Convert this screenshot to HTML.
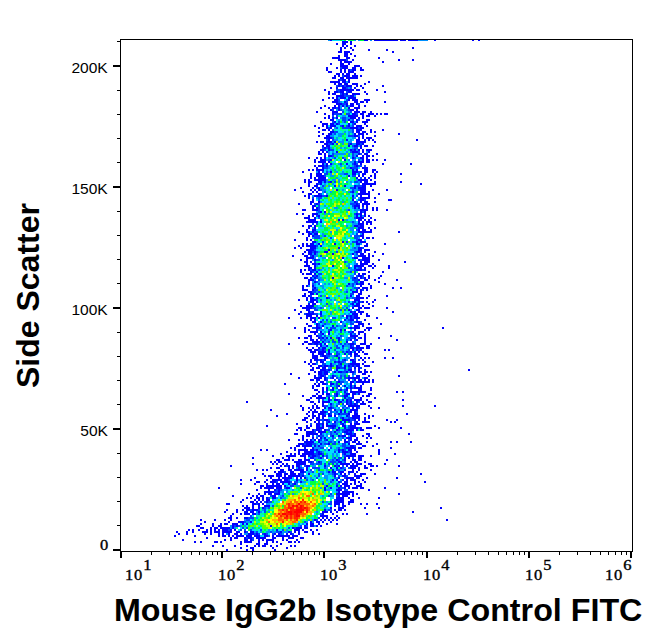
<!DOCTYPE html>
<html><head><meta charset="utf-8"><style>
html,body{margin:0;padding:0;background:#fff;width:653px;height:641px;overflow:hidden}
.t{position:absolute;white-space:nowrap;line-height:1;color:#000}
.yl{font-family:"Liberation Sans",sans-serif;font-size:14px;transform-origin:100% 50%;transform:scaleX(1.11)}
.xl{font-family:"Liberation Serif",serif;font-size:15px;-webkit-text-stroke:0.35px #000}
.xs{transform-origin:0 0;transform:scaleX(1.1);letter-spacing:0.6px}
.sup{position:relative;top:-10px;left:0.5px}
.ti{left:114px;top:595px;font-family:"Liberation Sans",sans-serif;font-weight:bold;font-size:31px;transform-origin:0 0;transform:scaleX(1.04)}
.yt{left:12px;top:388px;font-family:"Liberation Sans",sans-serif;font-weight:bold;font-size:32px;transform-origin:0 0;transform:rotate(-90deg)}
</style></head><body>
<svg width="653" height="641" style="position:absolute;left:0;top:0" shape-rendering="crispEdges">
<path fill="#0000ff" d="M342 41h2v2h-2zM344 41h2v2h-2zM346 41h2v2h-2zM350 41h2v2h-2zM336 43h2v2h-2zM342 43h2v2h-2zM344 43h2v2h-2zM350 43h2v2h-2zM342 45h2v2h-2zM346 45h2v2h-2zM354 45h2v2h-2zM340 47h2v2h-2zM344 47h2v2h-2zM350 47h2v2h-2zM340 49h2v2h-2zM352 49h2v2h-2zM338 51h2v2h-2zM340 51h2v2h-2zM344 51h2v2h-2zM346 51h2v2h-2zM348 51h2v2h-2zM344 53h2v2h-2zM346 53h2v2h-2zM350 53h2v2h-2zM338 55h2v2h-2zM344 55h2v2h-2zM346 55h2v2h-2zM354 55h2v2h-2zM332 57h2v2h-2zM334 57h2v2h-2zM336 57h2v2h-2zM338 57h2v2h-2zM346 57h2v2h-2zM348 57h2v2h-2zM338 59h2v2h-2zM340 59h2v2h-2zM342 59h2v2h-2zM344 59h2v2h-2zM352 59h2v2h-2zM340 61h2v2h-2zM344 61h2v2h-2zM346 61h2v2h-2zM348 61h2v2h-2zM350 61h2v2h-2zM330 63h2v2h-2zM340 63h2v2h-2zM342 63h2v2h-2zM348 63h2v2h-2zM340 65h2v2h-2zM342 65h2v2h-2zM344 65h2v2h-2zM346 65h2v2h-2zM354 65h2v2h-2zM356 65h2v2h-2zM358 65h2v2h-2zM326 67h2v2h-2zM336 67h2v2h-2zM342 67h2v2h-2zM344 67h2v2h-2zM346 67h2v2h-2zM352 67h2v2h-2zM354 67h2v2h-2zM360 67h2v2h-2zM326 69h2v2h-2zM340 69h2v2h-2zM344 69h2v2h-2zM348 69h2v2h-2zM352 69h2v2h-2zM354 69h2v2h-2zM360 69h2v2h-2zM362 69h2v2h-2zM328 71h2v2h-2zM330 71h2v2h-2zM340 71h2v2h-2zM344 71h2v2h-2zM348 71h2v2h-2zM350 71h2v2h-2zM352 71h2v2h-2zM336 73h2v2h-2zM338 73h2v2h-2zM342 73h2v2h-2zM346 73h2v2h-2zM348 73h2v2h-2zM354 73h2v2h-2zM334 75h2v2h-2zM338 75h2v2h-2zM344 75h2v2h-2zM346 75h2v2h-2zM348 75h2v2h-2zM352 75h2v2h-2zM354 75h2v2h-2zM356 75h2v2h-2zM360 75h2v2h-2zM332 77h2v2h-2zM334 77h2v2h-2zM340 77h2v2h-2zM342 77h2v2h-2zM346 77h2v2h-2zM348 77h2v2h-2zM350 77h2v2h-2zM352 77h2v2h-2zM354 77h2v2h-2zM356 77h2v2h-2zM338 79h2v2h-2zM342 79h2v2h-2zM344 79h2v2h-2zM348 79h2v2h-2zM330 81h2v2h-2zM332 81h2v2h-2zM334 81h2v2h-2zM336 81h2v2h-2zM338 81h2v2h-2zM342 81h2v2h-2zM344 81h2v2h-2zM348 81h2v2h-2zM368 81h2v2h-2zM334 83h2v2h-2zM338 83h2v2h-2zM340 83h2v2h-2zM344 83h2v2h-2zM346 83h2v2h-2zM352 83h2v2h-2zM354 83h2v2h-2zM356 83h2v2h-2zM364 83h2v2h-2zM338 85h2v2h-2zM342 85h2v2h-2zM346 85h2v2h-2zM348 85h2v2h-2zM350 85h2v2h-2zM356 85h2v2h-2zM360 85h2v2h-2zM382 85h2v2h-2zM330 87h2v2h-2zM336 87h2v2h-2zM342 87h2v2h-2zM344 87h2v2h-2zM354 87h2v2h-2zM362 87h2v2h-2zM324 89h2v2h-2zM340 89h2v2h-2zM342 89h2v2h-2zM344 89h2v2h-2zM346 89h2v2h-2zM348 89h2v2h-2zM350 89h2v2h-2zM352 89h2v2h-2zM356 89h2v2h-2zM358 89h2v2h-2zM376 89h2v2h-2zM328 91h2v2h-2zM334 91h2v2h-2zM336 91h2v2h-2zM340 91h2v2h-2zM342 91h2v2h-2zM348 91h2v2h-2zM350 91h2v2h-2zM364 91h2v2h-2zM328 93h2v2h-2zM332 93h2v2h-2zM334 93h2v2h-2zM342 93h2v2h-2zM346 93h2v2h-2zM352 93h2v2h-2zM354 93h2v2h-2zM356 93h2v2h-2zM358 93h2v2h-2zM366 93h2v2h-2zM336 95h2v2h-2zM338 95h2v2h-2zM340 95h2v2h-2zM342 95h2v2h-2zM350 95h2v2h-2zM352 95h2v2h-2zM328 97h2v2h-2zM332 97h2v2h-2zM336 97h2v2h-2zM340 97h2v2h-2zM342 97h2v2h-2zM344 97h2v2h-2zM348 97h2v2h-2zM350 97h2v2h-2zM352 97h2v2h-2zM354 97h2v2h-2zM322 99h2v2h-2zM334 99h2v2h-2zM336 99h2v2h-2zM348 99h2v2h-2zM352 99h2v2h-2zM354 99h2v2h-2zM356 99h2v2h-2zM364 99h2v2h-2zM366 99h2v2h-2zM368 99h2v2h-2zM332 101h2v2h-2zM334 101h2v2h-2zM336 101h2v2h-2zM344 101h2v2h-2zM354 101h2v2h-2zM356 101h2v2h-2zM360 101h2v2h-2zM362 101h2v2h-2zM366 101h2v2h-2zM336 103h2v2h-2zM338 103h2v2h-2zM340 103h2v2h-2zM346 103h2v2h-2zM350 103h2v2h-2zM352 103h2v2h-2zM356 103h2v2h-2zM324 105h2v2h-2zM334 105h2v2h-2zM338 105h2v2h-2zM342 105h2v2h-2zM346 105h2v2h-2zM350 105h2v2h-2zM352 105h2v2h-2zM358 105h2v2h-2zM364 105h2v2h-2zM320 107h2v2h-2zM328 107h2v2h-2zM332 107h2v2h-2zM334 107h2v2h-2zM338 107h2v2h-2zM348 107h2v2h-2zM354 107h2v2h-2zM356 107h2v2h-2zM358 107h2v2h-2zM330 109h2v2h-2zM338 109h2v2h-2zM350 109h2v2h-2zM352 109h2v2h-2zM356 109h2v2h-2zM316 111h2v2h-2zM332 111h2v2h-2zM334 111h2v2h-2zM336 111h2v2h-2zM354 111h2v2h-2zM356 111h2v2h-2zM358 111h2v2h-2zM362 111h2v2h-2zM364 111h2v2h-2zM370 111h2v2h-2zM324 113h2v2h-2zM332 113h2v2h-2zM340 113h2v2h-2zM352 113h2v2h-2zM354 113h2v2h-2zM360 113h2v2h-2zM362 113h2v2h-2zM368 113h2v2h-2zM370 113h2v2h-2zM328 115h2v2h-2zM348 115h2v2h-2zM350 115h2v2h-2zM352 115h2v2h-2zM354 115h2v2h-2zM356 115h2v2h-2zM362 115h2v2h-2zM366 115h2v2h-2zM368 115h2v2h-2zM374 115h2v2h-2zM324 117h2v2h-2zM328 117h2v2h-2zM332 117h2v2h-2zM336 117h2v2h-2zM350 117h2v2h-2zM352 117h2v2h-2zM354 117h2v2h-2zM358 117h2v2h-2zM362 117h2v2h-2zM330 119h2v2h-2zM332 119h2v2h-2zM348 119h2v2h-2zM356 119h2v2h-2zM366 119h2v2h-2zM368 119h2v2h-2zM320 121h2v2h-2zM334 121h2v2h-2zM350 121h2v2h-2zM352 121h2v2h-2zM356 121h2v2h-2zM362 121h2v2h-2zM364 121h2v2h-2zM366 121h2v2h-2zM322 123h2v2h-2zM324 123h2v2h-2zM326 123h2v2h-2zM330 123h2v2h-2zM332 123h2v2h-2zM336 123h2v2h-2zM348 123h2v2h-2zM354 123h2v2h-2zM364 123h2v2h-2zM322 125h2v2h-2zM326 125h2v2h-2zM330 125h2v2h-2zM332 125h2v2h-2zM334 125h2v2h-2zM342 125h2v2h-2zM348 125h2v2h-2zM356 125h2v2h-2zM358 125h2v2h-2zM360 125h2v2h-2zM366 125h2v2h-2zM318 127h2v2h-2zM326 127h2v2h-2zM330 127h2v2h-2zM350 127h2v2h-2zM352 127h2v2h-2zM354 127h2v2h-2zM356 127h2v2h-2zM360 127h2v2h-2zM362 127h2v2h-2zM322 129h2v2h-2zM324 129h2v2h-2zM328 129h2v2h-2zM356 129h2v2h-2zM358 129h2v2h-2zM360 129h2v2h-2zM370 129h2v2h-2zM318 131h2v2h-2zM330 131h2v2h-2zM332 131h2v2h-2zM356 131h2v2h-2zM358 131h2v2h-2zM362 131h2v2h-2zM364 131h2v2h-2zM370 131h2v2h-2zM374 131h2v2h-2zM322 133h2v2h-2zM328 133h2v2h-2zM330 133h2v2h-2zM354 133h2v2h-2zM358 133h2v2h-2zM360 133h2v2h-2zM362 133h2v2h-2zM366 133h2v2h-2zM318 135h2v2h-2zM326 135h2v2h-2zM328 135h2v2h-2zM354 135h2v2h-2zM356 135h2v2h-2zM362 135h2v2h-2zM374 135h2v2h-2zM324 137h2v2h-2zM326 137h2v2h-2zM328 137h2v2h-2zM330 137h2v2h-2zM358 137h2v2h-2zM362 137h2v2h-2zM366 137h2v2h-2zM368 137h2v2h-2zM370 137h2v2h-2zM328 139h2v2h-2zM346 139h2v2h-2zM356 139h2v2h-2zM358 139h2v2h-2zM364 139h2v2h-2zM368 139h2v2h-2zM372 139h2v2h-2zM316 141h2v2h-2zM320 141h2v2h-2zM322 141h2v2h-2zM326 141h2v2h-2zM328 141h2v2h-2zM330 141h2v2h-2zM334 141h2v2h-2zM356 141h2v2h-2zM358 141h2v2h-2zM360 141h2v2h-2zM362 141h2v2h-2zM364 141h2v2h-2zM374 141h2v2h-2zM324 143h2v2h-2zM326 143h2v2h-2zM332 143h2v2h-2zM350 143h2v2h-2zM356 143h2v2h-2zM358 143h2v2h-2zM362 143h2v2h-2zM322 145h2v2h-2zM326 145h2v2h-2zM328 145h2v2h-2zM348 145h2v2h-2zM354 145h2v2h-2zM356 145h2v2h-2zM360 145h2v2h-2zM364 145h2v2h-2zM366 145h2v2h-2zM372 145h2v2h-2zM324 147h2v2h-2zM328 147h2v2h-2zM360 147h2v2h-2zM320 149h2v2h-2zM322 149h2v2h-2zM328 149h2v2h-2zM350 149h2v2h-2zM354 149h2v2h-2zM358 149h2v2h-2zM362 149h2v2h-2zM366 149h2v2h-2zM368 149h2v2h-2zM370 149h2v2h-2zM318 151h2v2h-2zM322 151h2v2h-2zM326 151h2v2h-2zM336 151h2v2h-2zM352 151h2v2h-2zM354 151h2v2h-2zM356 151h2v2h-2zM362 151h2v2h-2zM368 151h2v2h-2zM318 153h2v2h-2zM320 153h2v2h-2zM324 153h2v2h-2zM358 153h2v2h-2zM364 153h2v2h-2zM366 153h2v2h-2zM376 153h2v2h-2zM324 155h2v2h-2zM328 155h2v2h-2zM330 155h2v2h-2zM356 155h2v2h-2zM362 155h2v2h-2zM366 155h2v2h-2zM368 155h2v2h-2zM372 155h2v2h-2zM308 157h2v2h-2zM316 157h2v2h-2zM320 157h2v2h-2zM324 157h2v2h-2zM352 157h2v2h-2zM360 157h2v2h-2zM362 157h2v2h-2zM366 157h2v2h-2zM314 159h2v2h-2zM320 159h2v2h-2zM322 159h2v2h-2zM324 159h2v2h-2zM330 159h2v2h-2zM344 159h2v2h-2zM362 159h2v2h-2zM366 159h2v2h-2zM368 159h2v2h-2zM372 159h2v2h-2zM376 159h2v2h-2zM384 159h2v2h-2zM314 161h2v2h-2zM318 161h2v2h-2zM320 161h2v2h-2zM322 161h2v2h-2zM324 161h2v2h-2zM328 161h2v2h-2zM354 161h2v2h-2zM358 161h2v2h-2zM360 161h2v2h-2zM362 161h2v2h-2zM366 161h2v2h-2zM368 161h2v2h-2zM322 163h2v2h-2zM326 163h2v2h-2zM330 163h2v2h-2zM346 163h2v2h-2zM354 163h2v2h-2zM360 163h2v2h-2zM382 163h2v2h-2zM410 163h2v2h-2zM314 165h2v2h-2zM318 165h2v2h-2zM320 165h2v2h-2zM322 165h2v2h-2zM326 165h2v2h-2zM356 165h2v2h-2zM316 167h2v2h-2zM322 167h2v2h-2zM350 167h2v2h-2zM362 167h2v2h-2zM364 167h2v2h-2zM366 167h2v2h-2zM308 169h2v2h-2zM312 169h2v2h-2zM316 169h2v2h-2zM318 169h2v2h-2zM320 169h2v2h-2zM322 169h2v2h-2zM352 169h2v2h-2zM356 169h2v2h-2zM364 169h2v2h-2zM366 169h2v2h-2zM372 169h2v2h-2zM374 169h2v2h-2zM318 171h2v2h-2zM330 171h2v2h-2zM352 171h2v2h-2zM354 171h2v2h-2zM356 171h2v2h-2zM360 171h2v2h-2zM364 171h2v2h-2zM366 171h2v2h-2zM372 171h2v2h-2zM376 171h2v2h-2zM310 173h2v2h-2zM316 173h2v2h-2zM318 173h2v2h-2zM320 173h2v2h-2zM352 173h2v2h-2zM354 173h2v2h-2zM362 173h2v2h-2zM364 173h2v2h-2zM374 173h2v2h-2zM310 175h2v2h-2zM316 175h2v2h-2zM318 175h2v2h-2zM320 175h2v2h-2zM322 175h2v2h-2zM348 175h2v2h-2zM358 175h2v2h-2zM362 175h2v2h-2zM370 175h2v2h-2zM374 175h2v2h-2zM310 177h2v2h-2zM314 177h2v2h-2zM318 177h2v2h-2zM320 177h2v2h-2zM322 177h2v2h-2zM324 177h2v2h-2zM356 177h2v2h-2zM364 177h2v2h-2zM368 177h2v2h-2zM374 177h2v2h-2zM304 179h2v2h-2zM308 179h2v2h-2zM314 179h2v2h-2zM316 179h2v2h-2zM318 179h2v2h-2zM320 179h2v2h-2zM322 179h2v2h-2zM324 179h2v2h-2zM358 179h2v2h-2zM360 179h2v2h-2zM362 179h2v2h-2zM364 179h2v2h-2zM366 179h2v2h-2zM370 179h2v2h-2zM304 181h2v2h-2zM308 181h2v2h-2zM310 181h2v2h-2zM318 181h2v2h-2zM320 181h2v2h-2zM324 181h2v2h-2zM330 181h2v2h-2zM360 181h2v2h-2zM364 181h2v2h-2zM366 181h2v2h-2zM374 181h2v2h-2zM400 181h2v2h-2zM308 183h2v2h-2zM316 183h2v2h-2zM320 183h2v2h-2zM362 183h2v2h-2zM364 183h2v2h-2zM366 183h2v2h-2zM368 183h2v2h-2zM370 183h2v2h-2zM372 183h2v2h-2zM374 183h2v2h-2zM308 185h2v2h-2zM314 185h2v2h-2zM316 185h2v2h-2zM334 185h2v2h-2zM344 185h2v2h-2zM354 185h2v2h-2zM362 185h2v2h-2zM364 185h2v2h-2zM370 185h2v2h-2zM300 187h2v2h-2zM312 187h2v2h-2zM318 187h2v2h-2zM354 187h2v2h-2zM358 187h2v2h-2zM360 187h2v2h-2zM362 187h2v2h-2zM364 187h2v2h-2zM310 189h2v2h-2zM314 189h2v2h-2zM318 189h2v2h-2zM336 189h2v2h-2zM360 189h2v2h-2zM362 189h2v2h-2zM364 189h2v2h-2zM372 189h2v2h-2zM386 189h2v2h-2zM302 191h2v2h-2zM312 191h2v2h-2zM316 191h2v2h-2zM352 191h2v2h-2zM360 191h2v2h-2zM362 191h2v2h-2zM364 191h2v2h-2zM368 191h2v2h-2zM308 193h2v2h-2zM310 193h2v2h-2zM318 193h2v2h-2zM358 193h2v2h-2zM360 193h2v2h-2zM362 193h2v2h-2zM364 193h2v2h-2zM366 193h2v2h-2zM368 193h2v2h-2zM378 193h2v2h-2zM304 195h2v2h-2zM308 195h2v2h-2zM314 195h2v2h-2zM316 195h2v2h-2zM318 195h2v2h-2zM320 195h2v2h-2zM326 195h2v2h-2zM352 195h2v2h-2zM360 195h2v2h-2zM368 195h2v2h-2zM308 197h2v2h-2zM360 197h2v2h-2zM362 197h2v2h-2zM364 197h2v2h-2zM366 197h2v2h-2zM368 197h2v2h-2zM374 197h2v2h-2zM312 199h2v2h-2zM352 199h2v2h-2zM360 199h2v2h-2zM362 199h2v2h-2zM388 199h2v2h-2zM390 199h2v2h-2zM310 201h2v2h-2zM312 201h2v2h-2zM318 201h2v2h-2zM354 201h2v2h-2zM360 201h2v2h-2zM364 201h2v2h-2zM366 201h2v2h-2zM374 201h2v2h-2zM298 203h2v2h-2zM310 203h2v2h-2zM316 203h2v2h-2zM356 203h2v2h-2zM362 203h2v2h-2zM364 203h2v2h-2zM366 203h2v2h-2zM368 203h2v2h-2zM312 205h2v2h-2zM314 205h2v2h-2zM354 205h2v2h-2zM356 205h2v2h-2zM358 205h2v2h-2zM362 205h2v2h-2zM366 205h2v2h-2zM312 207h2v2h-2zM316 207h2v2h-2zM354 207h2v2h-2zM358 207h2v2h-2zM366 207h2v2h-2zM372 207h2v2h-2zM376 207h2v2h-2zM302 209h2v2h-2zM304 209h2v2h-2zM312 209h2v2h-2zM314 209h2v2h-2zM316 209h2v2h-2zM360 209h2v2h-2zM362 209h2v2h-2zM364 209h2v2h-2zM366 209h2v2h-2zM372 209h2v2h-2zM376 209h2v2h-2zM320 211h2v2h-2zM324 211h2v2h-2zM360 211h2v2h-2zM364 211h2v2h-2zM296 213h2v2h-2zM302 213h2v2h-2zM312 213h2v2h-2zM314 213h2v2h-2zM316 213h2v2h-2zM356 213h2v2h-2zM360 213h2v2h-2zM364 213h2v2h-2zM308 215h2v2h-2zM312 215h2v2h-2zM318 215h2v2h-2zM356 215h2v2h-2zM360 215h2v2h-2zM364 215h2v2h-2zM368 215h2v2h-2zM304 217h2v2h-2zM306 217h2v2h-2zM308 217h2v2h-2zM314 217h2v2h-2zM356 217h2v2h-2zM358 217h2v2h-2zM360 217h2v2h-2zM362 217h2v2h-2zM370 217h2v2h-2zM308 219h2v2h-2zM310 219h2v2h-2zM312 219h2v2h-2zM314 219h2v2h-2zM338 219h2v2h-2zM342 219h2v2h-2zM358 219h2v2h-2zM360 219h2v2h-2zM364 219h2v2h-2zM368 219h2v2h-2zM374 219h2v2h-2zM306 221h2v2h-2zM308 221h2v2h-2zM310 221h2v2h-2zM312 221h2v2h-2zM314 221h2v2h-2zM316 221h2v2h-2zM320 221h2v2h-2zM358 221h2v2h-2zM362 221h2v2h-2zM366 221h2v2h-2zM368 221h2v2h-2zM370 221h2v2h-2zM358 223h2v2h-2zM360 223h2v2h-2zM362 223h2v2h-2zM366 223h2v2h-2zM370 223h2v2h-2zM302 225h2v2h-2zM308 225h2v2h-2zM310 225h2v2h-2zM314 225h2v2h-2zM354 225h2v2h-2zM356 225h2v2h-2zM360 225h2v2h-2zM362 225h2v2h-2zM308 227h2v2h-2zM314 227h2v2h-2zM358 227h2v2h-2zM360 227h2v2h-2zM362 227h2v2h-2zM368 227h2v2h-2zM374 227h2v2h-2zM306 229h2v2h-2zM312 229h2v2h-2zM314 229h2v2h-2zM358 229h2v2h-2zM362 229h2v2h-2zM364 229h2v2h-2zM370 229h2v2h-2zM298 231h2v2h-2zM306 231h2v2h-2zM308 231h2v2h-2zM312 231h2v2h-2zM358 231h2v2h-2zM360 231h2v2h-2zM362 231h2v2h-2zM364 231h2v2h-2zM366 231h2v2h-2zM368 231h2v2h-2zM370 231h2v2h-2zM302 233h2v2h-2zM308 233h2v2h-2zM310 233h2v2h-2zM314 233h2v2h-2zM316 233h2v2h-2zM362 233h2v2h-2zM308 235h2v2h-2zM312 235h2v2h-2zM360 235h2v2h-2zM362 235h2v2h-2zM306 237h2v2h-2zM362 237h2v2h-2zM366 237h2v2h-2zM368 237h2v2h-2zM372 237h2v2h-2zM294 239h2v2h-2zM306 239h2v2h-2zM310 239h2v2h-2zM358 239h2v2h-2zM360 239h2v2h-2zM312 241h2v2h-2zM314 241h2v2h-2zM342 241h2v2h-2zM356 241h2v2h-2zM360 241h2v2h-2zM362 241h2v2h-2zM364 241h2v2h-2zM302 243h2v2h-2zM306 243h2v2h-2zM310 243h2v2h-2zM312 243h2v2h-2zM318 243h2v2h-2zM334 243h2v2h-2zM356 243h2v2h-2zM358 243h2v2h-2zM366 243h2v2h-2zM384 243h2v2h-2zM298 245h2v2h-2zM302 245h2v2h-2zM306 245h2v2h-2zM308 245h2v2h-2zM310 245h2v2h-2zM312 245h2v2h-2zM314 245h2v2h-2zM320 245h2v2h-2zM364 245h2v2h-2zM366 245h2v2h-2zM294 247h2v2h-2zM300 247h2v2h-2zM310 247h2v2h-2zM312 247h2v2h-2zM314 247h2v2h-2zM338 247h2v2h-2zM358 247h2v2h-2zM360 247h2v2h-2zM306 249h2v2h-2zM308 249h2v2h-2zM310 249h2v2h-2zM312 249h2v2h-2zM328 249h2v2h-2zM358 249h2v2h-2zM360 249h2v2h-2zM364 249h2v2h-2zM366 249h2v2h-2zM368 249h2v2h-2zM304 251h2v2h-2zM308 251h2v2h-2zM310 251h2v2h-2zM314 251h2v2h-2zM324 251h2v2h-2zM326 251h2v2h-2zM356 251h2v2h-2zM358 251h2v2h-2zM364 251h2v2h-2zM374 251h2v2h-2zM302 253h2v2h-2zM308 253h2v2h-2zM310 253h2v2h-2zM314 253h2v2h-2zM332 253h2v2h-2zM352 253h2v2h-2zM360 253h2v2h-2zM362 253h2v2h-2zM368 253h2v2h-2zM382 253h2v2h-2zM304 255h2v2h-2zM306 255h2v2h-2zM312 255h2v2h-2zM358 255h2v2h-2zM360 255h2v2h-2zM362 255h2v2h-2zM364 255h2v2h-2zM368 255h2v2h-2zM372 255h2v2h-2zM306 257h2v2h-2zM308 257h2v2h-2zM310 257h2v2h-2zM312 257h2v2h-2zM342 257h2v2h-2zM354 257h2v2h-2zM356 257h2v2h-2zM362 257h2v2h-2zM364 257h2v2h-2zM366 257h2v2h-2zM368 257h2v2h-2zM300 259h2v2h-2zM306 259h2v2h-2zM314 259h2v2h-2zM358 259h2v2h-2zM362 259h2v2h-2zM364 259h2v2h-2zM366 259h2v2h-2zM368 259h2v2h-2zM378 259h2v2h-2zM304 261h2v2h-2zM306 261h2v2h-2zM310 261h2v2h-2zM360 261h2v2h-2zM364 261h2v2h-2zM366 261h2v2h-2zM368 261h2v2h-2zM306 263h2v2h-2zM312 263h2v2h-2zM314 263h2v2h-2zM318 263h2v2h-2zM360 263h2v2h-2zM362 263h2v2h-2zM364 263h2v2h-2zM366 263h2v2h-2zM372 263h2v2h-2zM304 265h2v2h-2zM306 265h2v2h-2zM308 265h2v2h-2zM314 265h2v2h-2zM332 265h2v2h-2zM354 265h2v2h-2zM356 265h2v2h-2zM358 265h2v2h-2zM360 265h2v2h-2zM362 265h2v2h-2zM368 265h2v2h-2zM370 265h2v2h-2zM374 265h2v2h-2zM388 265h2v2h-2zM308 267h2v2h-2zM310 267h2v2h-2zM314 267h2v2h-2zM354 267h2v2h-2zM360 267h2v2h-2zM364 267h2v2h-2zM372 267h2v2h-2zM388 267h2v2h-2zM300 269h2v2h-2zM304 269h2v2h-2zM308 269h2v2h-2zM312 269h2v2h-2zM314 269h2v2h-2zM356 269h2v2h-2zM358 269h2v2h-2zM360 269h2v2h-2zM364 269h2v2h-2zM300 271h2v2h-2zM310 271h2v2h-2zM316 271h2v2h-2zM368 271h2v2h-2zM382 271h2v2h-2zM302 273h2v2h-2zM306 273h2v2h-2zM308 273h2v2h-2zM310 273h2v2h-2zM314 273h2v2h-2zM358 273h2v2h-2zM362 273h2v2h-2zM364 273h2v2h-2zM312 275h2v2h-2zM316 275h2v2h-2zM358 275h2v2h-2zM360 275h2v2h-2zM368 275h2v2h-2zM380 275h2v2h-2zM304 277h2v2h-2zM306 277h2v2h-2zM310 277h2v2h-2zM314 277h2v2h-2zM332 277h2v2h-2zM354 277h2v2h-2zM360 277h2v2h-2zM364 277h2v2h-2zM368 277h2v2h-2zM378 277h2v2h-2zM308 279h2v2h-2zM310 279h2v2h-2zM312 279h2v2h-2zM358 279h2v2h-2zM364 279h2v2h-2zM366 279h2v2h-2zM374 279h2v2h-2zM396 279h2v2h-2zM308 281h2v2h-2zM314 281h2v2h-2zM360 281h2v2h-2zM362 281h2v2h-2zM378 281h2v2h-2zM308 283h2v2h-2zM348 283h2v2h-2zM356 283h2v2h-2zM360 283h2v2h-2zM362 283h2v2h-2zM368 283h2v2h-2zM384 283h2v2h-2zM302 285h2v2h-2zM306 285h2v2h-2zM312 285h2v2h-2zM360 285h2v2h-2zM370 285h2v2h-2zM302 287h2v2h-2zM314 287h2v2h-2zM358 287h2v2h-2zM362 287h2v2h-2zM364 287h2v2h-2zM366 287h2v2h-2zM370 287h2v2h-2zM392 287h2v2h-2zM302 289h2v2h-2zM304 289h2v2h-2zM306 289h2v2h-2zM312 289h2v2h-2zM356 289h2v2h-2zM360 289h2v2h-2zM366 289h2v2h-2zM308 291h2v2h-2zM310 291h2v2h-2zM352 291h2v2h-2zM354 291h2v2h-2zM356 291h2v2h-2zM360 291h2v2h-2zM304 293h2v2h-2zM310 293h2v2h-2zM312 293h2v2h-2zM316 293h2v2h-2zM358 293h2v2h-2zM360 293h2v2h-2zM302 295h2v2h-2zM304 295h2v2h-2zM308 295h2v2h-2zM350 295h2v2h-2zM356 295h2v2h-2zM358 295h2v2h-2zM368 295h2v2h-2zM386 295h2v2h-2zM306 297h2v2h-2zM310 297h2v2h-2zM312 297h2v2h-2zM316 297h2v2h-2zM326 297h2v2h-2zM356 297h2v2h-2zM358 297h2v2h-2zM360 297h2v2h-2zM362 297h2v2h-2zM366 297h2v2h-2zM298 299h2v2h-2zM306 299h2v2h-2zM310 299h2v2h-2zM312 299h2v2h-2zM314 299h2v2h-2zM354 299h2v2h-2zM356 299h2v2h-2zM358 299h2v2h-2zM374 299h2v2h-2zM310 301h2v2h-2zM312 301h2v2h-2zM316 301h2v2h-2zM354 301h2v2h-2zM358 301h2v2h-2zM362 301h2v2h-2zM366 301h2v2h-2zM372 301h2v2h-2zM308 303h2v2h-2zM312 303h2v2h-2zM314 303h2v2h-2zM352 303h2v2h-2zM356 303h2v2h-2zM358 303h2v2h-2zM368 303h2v2h-2zM300 305h2v2h-2zM306 305h2v2h-2zM308 305h2v2h-2zM310 305h2v2h-2zM312 305h2v2h-2zM354 305h2v2h-2zM356 305h2v2h-2zM358 305h2v2h-2zM362 305h2v2h-2zM372 305h2v2h-2zM302 307h2v2h-2zM304 307h2v2h-2zM306 307h2v2h-2zM308 307h2v2h-2zM310 307h2v2h-2zM352 307h2v2h-2zM358 307h2v2h-2zM360 307h2v2h-2zM364 307h2v2h-2zM366 307h2v2h-2zM368 307h2v2h-2zM386 307h2v2h-2zM306 309h2v2h-2zM308 309h2v2h-2zM348 309h2v2h-2zM356 309h2v2h-2zM358 309h2v2h-2zM300 311h2v2h-2zM308 311h2v2h-2zM312 311h2v2h-2zM320 311h2v2h-2zM350 311h2v2h-2zM354 311h2v2h-2zM358 311h2v2h-2zM360 311h2v2h-2zM362 311h2v2h-2zM392 311h2v2h-2zM298 313h2v2h-2zM306 313h2v2h-2zM308 313h2v2h-2zM310 313h2v2h-2zM312 313h2v2h-2zM320 313h2v2h-2zM352 313h2v2h-2zM354 313h2v2h-2zM356 313h2v2h-2zM360 313h2v2h-2zM366 313h2v2h-2zM306 315h2v2h-2zM308 315h2v2h-2zM310 315h2v2h-2zM316 315h2v2h-2zM346 315h2v2h-2zM350 315h2v2h-2zM354 315h2v2h-2zM356 315h2v2h-2zM366 315h2v2h-2zM368 315h2v2h-2zM288 317h2v2h-2zM300 317h2v2h-2zM306 317h2v2h-2zM310 317h2v2h-2zM312 317h2v2h-2zM314 317h2v2h-2zM318 317h2v2h-2zM346 317h2v2h-2zM350 317h2v2h-2zM354 317h2v2h-2zM356 317h2v2h-2zM358 317h2v2h-2zM376 317h2v2h-2zM310 319h2v2h-2zM314 319h2v2h-2zM344 319h2v2h-2zM350 319h2v2h-2zM352 319h2v2h-2zM364 319h2v2h-2zM312 321h2v2h-2zM314 321h2v2h-2zM320 321h2v2h-2zM340 321h2v2h-2zM356 321h2v2h-2zM358 321h2v2h-2zM306 323h2v2h-2zM316 323h2v2h-2zM358 323h2v2h-2zM360 323h2v2h-2zM362 323h2v2h-2zM368 323h2v2h-2zM380 323h2v2h-2zM308 325h2v2h-2zM310 325h2v2h-2zM316 325h2v2h-2zM322 325h2v2h-2zM332 325h2v2h-2zM344 325h2v2h-2zM354 325h2v2h-2zM356 325h2v2h-2zM362 325h2v2h-2zM304 327h2v2h-2zM316 327h2v2h-2zM318 327h2v2h-2zM350 327h2v2h-2zM354 327h2v2h-2zM356 327h2v2h-2zM358 327h2v2h-2zM366 327h2v2h-2zM368 327h2v2h-2zM370 327h2v2h-2zM304 329h2v2h-2zM308 329h2v2h-2zM316 329h2v2h-2zM330 329h2v2h-2zM340 329h2v2h-2zM344 329h2v2h-2zM354 329h2v2h-2zM364 329h2v2h-2zM368 329h2v2h-2zM304 331h2v2h-2zM310 331h2v2h-2zM312 331h2v2h-2zM314 331h2v2h-2zM316 331h2v2h-2zM320 331h2v2h-2zM328 331h2v2h-2zM352 331h2v2h-2zM358 331h2v2h-2zM360 331h2v2h-2zM362 331h2v2h-2zM314 333h2v2h-2zM322 333h2v2h-2zM328 333h2v2h-2zM350 333h2v2h-2zM358 333h2v2h-2zM364 333h2v2h-2zM308 335h2v2h-2zM310 335h2v2h-2zM316 335h2v2h-2zM350 335h2v2h-2zM352 335h2v2h-2zM354 335h2v2h-2zM356 335h2v2h-2zM364 335h2v2h-2zM390 335h2v2h-2zM298 337h2v2h-2zM304 337h2v2h-2zM306 337h2v2h-2zM310 337h2v2h-2zM318 337h2v2h-2zM322 337h2v2h-2zM326 337h2v2h-2zM330 337h2v2h-2zM338 337h2v2h-2zM354 337h2v2h-2zM360 337h2v2h-2zM364 337h2v2h-2zM378 337h2v2h-2zM310 339h2v2h-2zM312 339h2v2h-2zM316 339h2v2h-2zM338 339h2v2h-2zM350 339h2v2h-2zM356 339h2v2h-2zM364 339h2v2h-2zM304 341h2v2h-2zM306 341h2v2h-2zM312 341h2v2h-2zM314 341h2v2h-2zM316 341h2v2h-2zM318 341h2v2h-2zM322 341h2v2h-2zM346 341h2v2h-2zM364 341h2v2h-2zM302 343h2v2h-2zM308 343h2v2h-2zM310 343h2v2h-2zM314 343h2v2h-2zM316 343h2v2h-2zM320 343h2v2h-2zM324 343h2v2h-2zM350 343h2v2h-2zM352 343h2v2h-2zM360 343h2v2h-2zM362 343h2v2h-2zM364 343h2v2h-2zM370 343h2v2h-2zM320 345h2v2h-2zM326 345h2v2h-2zM342 345h2v2h-2zM350 345h2v2h-2zM356 345h2v2h-2zM358 345h2v2h-2zM366 345h2v2h-2zM368 345h2v2h-2zM306 347h2v2h-2zM312 347h2v2h-2zM318 347h2v2h-2zM322 347h2v2h-2zM324 347h2v2h-2zM350 347h2v2h-2zM352 347h2v2h-2zM356 347h2v2h-2zM358 347h2v2h-2zM360 347h2v2h-2zM362 347h2v2h-2zM366 347h2v2h-2zM368 347h2v2h-2zM308 349h2v2h-2zM310 349h2v2h-2zM314 349h2v2h-2zM316 349h2v2h-2zM322 349h2v2h-2zM328 349h2v2h-2zM352 349h2v2h-2zM356 349h2v2h-2zM360 349h2v2h-2zM388 349h2v2h-2zM310 351h2v2h-2zM312 351h2v2h-2zM314 351h2v2h-2zM318 351h2v2h-2zM320 351h2v2h-2zM322 351h2v2h-2zM324 351h2v2h-2zM328 351h2v2h-2zM346 351h2v2h-2zM350 351h2v2h-2zM354 351h2v2h-2zM358 351h2v2h-2zM362 351h2v2h-2zM312 353h2v2h-2zM318 353h2v2h-2zM320 353h2v2h-2zM322 353h2v2h-2zM328 353h2v2h-2zM344 353h2v2h-2zM350 353h2v2h-2zM354 353h2v2h-2zM356 353h2v2h-2zM364 353h2v2h-2zM366 353h2v2h-2zM312 355h2v2h-2zM314 355h2v2h-2zM316 355h2v2h-2zM322 355h2v2h-2zM324 355h2v2h-2zM336 355h2v2h-2zM354 355h2v2h-2zM358 355h2v2h-2zM312 357h2v2h-2zM314 357h2v2h-2zM316 357h2v2h-2zM324 357h2v2h-2zM326 357h2v2h-2zM338 357h2v2h-2zM360 357h2v2h-2zM364 357h2v2h-2zM368 357h2v2h-2zM384 357h2v2h-2zM310 359h2v2h-2zM314 359h2v2h-2zM316 359h2v2h-2zM320 359h2v2h-2zM324 359h2v2h-2zM344 359h2v2h-2zM350 359h2v2h-2zM352 359h2v2h-2zM362 359h2v2h-2zM304 361h2v2h-2zM310 361h2v2h-2zM320 361h2v2h-2zM322 361h2v2h-2zM334 361h2v2h-2zM338 361h2v2h-2zM352 361h2v2h-2zM354 361h2v2h-2zM364 361h2v2h-2zM372 361h2v2h-2zM308 363h2v2h-2zM312 363h2v2h-2zM314 363h2v2h-2zM330 363h2v2h-2zM340 363h2v2h-2zM350 363h2v2h-2zM352 363h2v2h-2zM354 363h2v2h-2zM356 363h2v2h-2zM358 363h2v2h-2zM362 363h2v2h-2zM310 365h2v2h-2zM318 365h2v2h-2zM320 365h2v2h-2zM324 365h2v2h-2zM326 365h2v2h-2zM330 365h2v2h-2zM336 365h2v2h-2zM344 365h2v2h-2zM348 365h2v2h-2zM352 365h2v2h-2zM356 365h2v2h-2zM358 365h2v2h-2zM364 365h2v2h-2zM366 365h2v2h-2zM368 365h2v2h-2zM312 367h2v2h-2zM316 367h2v2h-2zM318 367h2v2h-2zM322 367h2v2h-2zM324 367h2v2h-2zM336 367h2v2h-2zM338 367h2v2h-2zM344 367h2v2h-2zM354 367h2v2h-2zM358 367h2v2h-2zM310 369h2v2h-2zM312 369h2v2h-2zM320 369h2v2h-2zM322 369h2v2h-2zM324 369h2v2h-2zM328 369h2v2h-2zM336 369h2v2h-2zM348 369h2v2h-2zM350 369h2v2h-2zM358 369h2v2h-2zM364 369h2v2h-2zM314 371h2v2h-2zM318 371h2v2h-2zM320 371h2v2h-2zM324 371h2v2h-2zM326 371h2v2h-2zM334 371h2v2h-2zM338 371h2v2h-2zM340 371h2v2h-2zM346 371h2v2h-2zM350 371h2v2h-2zM352 371h2v2h-2zM358 371h2v2h-2zM360 371h2v2h-2zM364 371h2v2h-2zM366 371h2v2h-2zM370 371h2v2h-2zM308 373h2v2h-2zM318 373h2v2h-2zM320 373h2v2h-2zM324 373h2v2h-2zM326 373h2v2h-2zM362 373h2v2h-2zM364 373h2v2h-2zM314 375h2v2h-2zM320 375h2v2h-2zM322 375h2v2h-2zM332 375h2v2h-2zM356 375h2v2h-2zM358 375h2v2h-2zM368 375h2v2h-2zM398 375h2v2h-2zM298 377h2v2h-2zM314 377h2v2h-2zM316 377h2v2h-2zM318 377h2v2h-2zM320 377h2v2h-2zM324 377h2v2h-2zM332 377h2v2h-2zM348 377h2v2h-2zM350 377h2v2h-2zM352 377h2v2h-2zM354 377h2v2h-2zM356 377h2v2h-2zM358 377h2v2h-2zM364 377h2v2h-2zM366 377h2v2h-2zM310 379h2v2h-2zM312 379h2v2h-2zM316 379h2v2h-2zM318 379h2v2h-2zM324 379h2v2h-2zM348 379h2v2h-2zM354 379h2v2h-2zM358 379h2v2h-2zM360 379h2v2h-2zM364 379h2v2h-2zM368 379h2v2h-2zM372 379h2v2h-2zM320 381h2v2h-2zM322 381h2v2h-2zM338 381h2v2h-2zM350 381h2v2h-2zM352 381h2v2h-2zM356 381h2v2h-2zM358 381h2v2h-2zM360 381h2v2h-2zM362 381h2v2h-2zM364 381h2v2h-2zM366 381h2v2h-2zM368 381h2v2h-2zM372 381h2v2h-2zM314 383h2v2h-2zM318 383h2v2h-2zM322 383h2v2h-2zM324 383h2v2h-2zM330 383h2v2h-2zM332 383h2v2h-2zM350 383h2v2h-2zM362 383h2v2h-2zM312 385h2v2h-2zM316 385h2v2h-2zM318 385h2v2h-2zM338 385h2v2h-2zM344 385h2v2h-2zM350 385h2v2h-2zM354 385h2v2h-2zM360 385h2v2h-2zM312 387h2v2h-2zM322 387h2v2h-2zM326 387h2v2h-2zM332 387h2v2h-2zM346 387h2v2h-2zM350 387h2v2h-2zM354 387h2v2h-2zM356 387h2v2h-2zM358 387h2v2h-2zM360 387h2v2h-2zM370 387h2v2h-2zM314 389h2v2h-2zM316 389h2v2h-2zM322 389h2v2h-2zM326 389h2v2h-2zM332 389h2v2h-2zM340 389h2v2h-2zM346 389h2v2h-2zM358 389h2v2h-2zM360 389h2v2h-2zM370 389h2v2h-2zM318 391h2v2h-2zM322 391h2v2h-2zM344 391h2v2h-2zM350 391h2v2h-2zM352 391h2v2h-2zM354 391h2v2h-2zM356 391h2v2h-2zM358 391h2v2h-2zM360 391h2v2h-2zM362 391h2v2h-2zM364 391h2v2h-2zM316 393h2v2h-2zM322 393h2v2h-2zM326 393h2v2h-2zM328 393h2v2h-2zM336 393h2v2h-2zM346 393h2v2h-2zM348 393h2v2h-2zM352 393h2v2h-2zM354 393h2v2h-2zM358 393h2v2h-2zM368 393h2v2h-2zM370 393h2v2h-2zM302 395h2v2h-2zM312 395h2v2h-2zM314 395h2v2h-2zM318 395h2v2h-2zM320 395h2v2h-2zM336 395h2v2h-2zM344 395h2v2h-2zM346 395h2v2h-2zM352 395h2v2h-2zM362 395h2v2h-2zM366 395h2v2h-2zM368 395h2v2h-2zM310 397h2v2h-2zM316 397h2v2h-2zM318 397h2v2h-2zM320 397h2v2h-2zM322 397h2v2h-2zM324 397h2v2h-2zM328 397h2v2h-2zM344 397h2v2h-2zM352 397h2v2h-2zM360 397h2v2h-2zM374 397h2v2h-2zM306 399h2v2h-2zM308 399h2v2h-2zM328 399h2v2h-2zM334 399h2v2h-2zM336 399h2v2h-2zM342 399h2v2h-2zM346 399h2v2h-2zM350 399h2v2h-2zM354 399h2v2h-2zM356 399h2v2h-2zM358 399h2v2h-2zM360 399h2v2h-2zM366 399h2v2h-2zM310 401h2v2h-2zM312 401h2v2h-2zM318 401h2v2h-2zM322 401h2v2h-2zM324 401h2v2h-2zM326 401h2v2h-2zM328 401h2v2h-2zM338 401h2v2h-2zM340 401h2v2h-2zM346 401h2v2h-2zM350 401h2v2h-2zM356 401h2v2h-2zM362 401h2v2h-2zM368 401h2v2h-2zM370 401h2v2h-2zM314 403h2v2h-2zM322 403h2v2h-2zM330 403h2v2h-2zM346 403h2v2h-2zM350 403h2v2h-2zM354 403h2v2h-2zM360 403h2v2h-2zM362 403h2v2h-2zM364 403h2v2h-2zM300 405h2v2h-2zM312 405h2v2h-2zM316 405h2v2h-2zM322 405h2v2h-2zM348 405h2v2h-2zM350 405h2v2h-2zM352 405h2v2h-2zM354 405h2v2h-2zM356 405h2v2h-2zM358 405h2v2h-2zM368 405h2v2h-2zM302 407h2v2h-2zM308 407h2v2h-2zM312 407h2v2h-2zM316 407h2v2h-2zM318 407h2v2h-2zM324 407h2v2h-2zM328 407h2v2h-2zM330 407h2v2h-2zM352 407h2v2h-2zM356 407h2v2h-2zM370 407h2v2h-2zM378 407h2v2h-2zM302 409h2v2h-2zM310 409h2v2h-2zM314 409h2v2h-2zM322 409h2v2h-2zM334 409h2v2h-2zM340 409h2v2h-2zM344 409h2v2h-2zM350 409h2v2h-2zM352 409h2v2h-2zM354 409h2v2h-2zM356 409h2v2h-2zM308 411h2v2h-2zM312 411h2v2h-2zM314 411h2v2h-2zM316 411h2v2h-2zM320 411h2v2h-2zM322 411h2v2h-2zM324 411h2v2h-2zM340 411h2v2h-2zM344 411h2v2h-2zM350 411h2v2h-2zM354 411h2v2h-2zM306 413h2v2h-2zM312 413h2v2h-2zM318 413h2v2h-2zM320 413h2v2h-2zM322 413h2v2h-2zM328 413h2v2h-2zM338 413h2v2h-2zM348 413h2v2h-2zM354 413h2v2h-2zM356 413h2v2h-2zM364 413h2v2h-2zM308 415h2v2h-2zM312 415h2v2h-2zM314 415h2v2h-2zM318 415h2v2h-2zM322 415h2v2h-2zM324 415h2v2h-2zM328 415h2v2h-2zM330 415h2v2h-2zM334 415h2v2h-2zM346 415h2v2h-2zM352 415h2v2h-2zM354 415h2v2h-2zM356 415h2v2h-2zM358 415h2v2h-2zM368 415h2v2h-2zM372 415h2v2h-2zM304 417h2v2h-2zM306 417h2v2h-2zM312 417h2v2h-2zM316 417h2v2h-2zM318 417h2v2h-2zM322 417h2v2h-2zM342 417h2v2h-2zM352 417h2v2h-2zM354 417h2v2h-2zM356 417h2v2h-2zM358 417h2v2h-2zM364 417h2v2h-2zM368 417h2v2h-2zM302 419h2v2h-2zM304 419h2v2h-2zM310 419h2v2h-2zM316 419h2v2h-2zM318 419h2v2h-2zM324 419h2v2h-2zM326 419h2v2h-2zM342 419h2v2h-2zM344 419h2v2h-2zM346 419h2v2h-2zM348 419h2v2h-2zM354 419h2v2h-2zM358 419h2v2h-2zM364 419h2v2h-2zM386 419h2v2h-2zM396 419h2v2h-2zM306 421h2v2h-2zM314 421h2v2h-2zM318 421h2v2h-2zM328 421h2v2h-2zM334 421h2v2h-2zM340 421h2v2h-2zM344 421h2v2h-2zM356 421h2v2h-2zM362 421h2v2h-2zM364 421h2v2h-2zM366 421h2v2h-2zM368 421h2v2h-2zM390 421h2v2h-2zM296 423h2v2h-2zM316 423h2v2h-2zM318 423h2v2h-2zM322 423h2v2h-2zM326 423h2v2h-2zM342 423h2v2h-2zM350 423h2v2h-2zM354 423h2v2h-2zM356 423h2v2h-2zM358 423h2v2h-2zM306 425h2v2h-2zM310 425h2v2h-2zM316 425h2v2h-2zM318 425h2v2h-2zM322 425h2v2h-2zM326 425h2v2h-2zM328 425h2v2h-2zM330 425h2v2h-2zM332 425h2v2h-2zM334 425h2v2h-2zM342 425h2v2h-2zM344 425h2v2h-2zM350 425h2v2h-2zM352 425h2v2h-2zM354 425h2v2h-2zM374 425h2v2h-2zM298 427h2v2h-2zM300 427h2v2h-2zM306 427h2v2h-2zM308 427h2v2h-2zM316 427h2v2h-2zM318 427h2v2h-2zM320 427h2v2h-2zM322 427h2v2h-2zM332 427h2v2h-2zM338 427h2v2h-2zM344 427h2v2h-2zM350 427h2v2h-2zM352 427h2v2h-2zM354 427h2v2h-2zM356 427h2v2h-2zM360 427h2v2h-2zM366 427h2v2h-2zM368 427h2v2h-2zM370 427h2v2h-2zM378 427h2v2h-2zM296 429h2v2h-2zM300 429h2v2h-2zM304 429h2v2h-2zM312 429h2v2h-2zM316 429h2v2h-2zM318 429h2v2h-2zM324 429h2v2h-2zM336 429h2v2h-2zM346 429h2v2h-2zM348 429h2v2h-2zM350 429h2v2h-2zM352 429h2v2h-2zM356 429h2v2h-2zM360 429h2v2h-2zM362 429h2v2h-2zM306 431h2v2h-2zM308 431h2v2h-2zM310 431h2v2h-2zM312 431h2v2h-2zM318 431h2v2h-2zM320 431h2v2h-2zM322 431h2v2h-2zM324 431h2v2h-2zM334 431h2v2h-2zM344 431h2v2h-2zM346 431h2v2h-2zM350 431h2v2h-2zM294 433h2v2h-2zM296 433h2v2h-2zM306 433h2v2h-2zM308 433h2v2h-2zM310 433h2v2h-2zM312 433h2v2h-2zM314 433h2v2h-2zM316 433h2v2h-2zM320 433h2v2h-2zM346 433h2v2h-2zM348 433h2v2h-2zM350 433h2v2h-2zM354 433h2v2h-2zM366 433h2v2h-2zM368 433h2v2h-2zM302 435h2v2h-2zM306 435h2v2h-2zM308 435h2v2h-2zM318 435h2v2h-2zM332 435h2v2h-2zM338 435h2v2h-2zM342 435h2v2h-2zM344 435h2v2h-2zM350 435h2v2h-2zM352 435h2v2h-2zM354 435h2v2h-2zM362 435h2v2h-2zM368 435h2v2h-2zM302 437h2v2h-2zM312 437h2v2h-2zM320 437h2v2h-2zM324 437h2v2h-2zM346 437h2v2h-2zM348 437h2v2h-2zM350 437h2v2h-2zM356 437h2v2h-2zM366 437h2v2h-2zM370 437h2v2h-2zM288 439h2v2h-2zM298 439h2v2h-2zM302 439h2v2h-2zM306 439h2v2h-2zM310 439h2v2h-2zM314 439h2v2h-2zM318 439h2v2h-2zM326 439h2v2h-2zM344 439h2v2h-2zM350 439h2v2h-2zM354 439h2v2h-2zM356 439h2v2h-2zM304 441h2v2h-2zM306 441h2v2h-2zM308 441h2v2h-2zM310 441h2v2h-2zM312 441h2v2h-2zM318 441h2v2h-2zM338 441h2v2h-2zM344 441h2v2h-2zM346 441h2v2h-2zM352 441h2v2h-2zM354 441h2v2h-2zM358 441h2v2h-2zM366 441h2v2h-2zM390 441h2v2h-2zM410 441h2v2h-2zM298 443h2v2h-2zM300 443h2v2h-2zM302 443h2v2h-2zM306 443h2v2h-2zM308 443h2v2h-2zM310 443h2v2h-2zM320 443h2v2h-2zM328 443h2v2h-2zM348 443h2v2h-2zM356 443h2v2h-2zM358 443h2v2h-2zM360 443h2v2h-2zM376 443h2v2h-2zM296 445h2v2h-2zM298 445h2v2h-2zM302 445h2v2h-2zM304 445h2v2h-2zM306 445h2v2h-2zM308 445h2v2h-2zM310 445h2v2h-2zM314 445h2v2h-2zM318 445h2v2h-2zM350 445h2v2h-2zM352 445h2v2h-2zM362 445h2v2h-2zM364 445h2v2h-2zM372 445h2v2h-2zM290 447h2v2h-2zM294 447h2v2h-2zM304 447h2v2h-2zM312 447h2v2h-2zM346 447h2v2h-2zM348 447h2v2h-2zM350 447h2v2h-2zM352 447h2v2h-2zM354 447h2v2h-2zM358 447h2v2h-2zM360 447h2v2h-2zM294 449h2v2h-2zM298 449h2v2h-2zM300 449h2v2h-2zM302 449h2v2h-2zM304 449h2v2h-2zM306 449h2v2h-2zM310 449h2v2h-2zM312 449h2v2h-2zM316 449h2v2h-2zM328 449h2v2h-2zM338 449h2v2h-2zM342 449h2v2h-2zM348 449h2v2h-2zM350 449h2v2h-2zM354 449h2v2h-2zM378 449h2v2h-2zM286 451h2v2h-2zM298 451h2v2h-2zM304 451h2v2h-2zM306 451h2v2h-2zM308 451h2v2h-2zM310 451h2v2h-2zM312 451h2v2h-2zM318 451h2v2h-2zM338 451h2v2h-2zM342 451h2v2h-2zM344 451h2v2h-2zM346 451h2v2h-2zM350 451h2v2h-2zM356 451h2v2h-2zM378 451h2v2h-2zM280 453h2v2h-2zM290 453h2v2h-2zM294 453h2v2h-2zM298 453h2v2h-2zM302 453h2v2h-2zM304 453h2v2h-2zM306 453h2v2h-2zM308 453h2v2h-2zM310 453h2v2h-2zM312 453h2v2h-2zM318 453h2v2h-2zM320 453h2v2h-2zM344 453h2v2h-2zM350 453h2v2h-2zM352 453h2v2h-2zM354 453h2v2h-2zM378 453h2v2h-2zM272 455h2v2h-2zM286 455h2v2h-2zM288 455h2v2h-2zM290 455h2v2h-2zM292 455h2v2h-2zM294 455h2v2h-2zM300 455h2v2h-2zM302 455h2v2h-2zM304 455h2v2h-2zM308 455h2v2h-2zM312 455h2v2h-2zM314 455h2v2h-2zM322 455h2v2h-2zM346 455h2v2h-2zM348 455h2v2h-2zM350 455h2v2h-2zM352 455h2v2h-2zM354 455h2v2h-2zM358 455h2v2h-2zM360 455h2v2h-2zM362 455h2v2h-2zM370 455h2v2h-2zM282 457h2v2h-2zM288 457h2v2h-2zM304 457h2v2h-2zM310 457h2v2h-2zM312 457h2v2h-2zM320 457h2v2h-2zM344 457h2v2h-2zM348 457h2v2h-2zM358 457h2v2h-2zM360 457h2v2h-2zM276 459h2v2h-2zM278 459h2v2h-2zM284 459h2v2h-2zM286 459h2v2h-2zM288 459h2v2h-2zM292 459h2v2h-2zM298 459h2v2h-2zM300 459h2v2h-2zM304 459h2v2h-2zM306 459h2v2h-2zM308 459h2v2h-2zM336 459h2v2h-2zM344 459h2v2h-2zM352 459h2v2h-2zM354 459h2v2h-2zM358 459h2v2h-2zM360 459h2v2h-2zM386 459h2v2h-2zM270 461h2v2h-2zM278 461h2v2h-2zM280 461h2v2h-2zM294 461h2v2h-2zM296 461h2v2h-2zM298 461h2v2h-2zM300 461h2v2h-2zM302 461h2v2h-2zM304 461h2v2h-2zM310 461h2v2h-2zM318 461h2v2h-2zM338 461h2v2h-2zM340 461h2v2h-2zM350 461h2v2h-2zM354 461h2v2h-2zM356 461h2v2h-2zM364 461h2v2h-2zM252 463h2v2h-2zM272 463h2v2h-2zM276 463h2v2h-2zM282 463h2v2h-2zM286 463h2v2h-2zM296 463h2v2h-2zM298 463h2v2h-2zM300 463h2v2h-2zM302 463h2v2h-2zM304 463h2v2h-2zM340 463h2v2h-2zM342 463h2v2h-2zM344 463h2v2h-2zM346 463h2v2h-2zM348 463h2v2h-2zM352 463h2v2h-2zM356 463h2v2h-2zM358 463h2v2h-2zM360 463h2v2h-2zM368 463h2v2h-2zM370 463h2v2h-2zM384 463h2v2h-2zM280 465h2v2h-2zM284 465h2v2h-2zM288 465h2v2h-2zM292 465h2v2h-2zM296 465h2v2h-2zM298 465h2v2h-2zM306 465h2v2h-2zM308 465h2v2h-2zM324 465h2v2h-2zM334 465h2v2h-2zM338 465h2v2h-2zM346 465h2v2h-2zM350 465h2v2h-2zM352 465h2v2h-2zM354 465h2v2h-2zM356 465h2v2h-2zM364 465h2v2h-2zM370 465h2v2h-2zM372 465h2v2h-2zM376 465h2v2h-2zM270 467h2v2h-2zM276 467h2v2h-2zM278 467h2v2h-2zM288 467h2v2h-2zM292 467h2v2h-2zM298 467h2v2h-2zM306 467h2v2h-2zM330 467h2v2h-2zM336 467h2v2h-2zM340 467h2v2h-2zM350 467h2v2h-2zM352 467h2v2h-2zM354 467h2v2h-2zM358 467h2v2h-2zM364 467h2v2h-2zM366 467h2v2h-2zM256 469h2v2h-2zM262 469h2v2h-2zM266 469h2v2h-2zM280 469h2v2h-2zM282 469h2v2h-2zM288 469h2v2h-2zM290 469h2v2h-2zM294 469h2v2h-2zM296 469h2v2h-2zM298 469h2v2h-2zM300 469h2v2h-2zM302 469h2v2h-2zM306 469h2v2h-2zM332 469h2v2h-2zM344 469h2v2h-2zM352 469h2v2h-2zM358 469h2v2h-2zM370 469h2v2h-2zM274 471h2v2h-2zM278 471h2v2h-2zM280 471h2v2h-2zM282 471h2v2h-2zM290 471h2v2h-2zM292 471h2v2h-2zM300 471h2v2h-2zM302 471h2v2h-2zM328 471h2v2h-2zM332 471h2v2h-2zM334 471h2v2h-2zM340 471h2v2h-2zM342 471h2v2h-2zM348 471h2v2h-2zM350 471h2v2h-2zM352 471h2v2h-2zM356 471h2v2h-2zM276 473h2v2h-2zM278 473h2v2h-2zM280 473h2v2h-2zM284 473h2v2h-2zM286 473h2v2h-2zM290 473h2v2h-2zM292 473h2v2h-2zM294 473h2v2h-2zM298 473h2v2h-2zM308 473h2v2h-2zM334 473h2v2h-2zM340 473h2v2h-2zM344 473h2v2h-2zM354 473h2v2h-2zM360 473h2v2h-2zM362 473h2v2h-2zM364 473h2v2h-2zM374 473h2v2h-2zM264 475h2v2h-2zM268 475h2v2h-2zM270 475h2v2h-2zM272 475h2v2h-2zM276 475h2v2h-2zM278 475h2v2h-2zM280 475h2v2h-2zM284 475h2v2h-2zM288 475h2v2h-2zM290 475h2v2h-2zM292 475h2v2h-2zM294 475h2v2h-2zM296 475h2v2h-2zM298 475h2v2h-2zM302 475h2v2h-2zM334 475h2v2h-2zM342 475h2v2h-2zM344 475h2v2h-2zM354 475h2v2h-2zM356 475h2v2h-2zM358 475h2v2h-2zM360 475h2v2h-2zM254 477h2v2h-2zM270 477h2v2h-2zM278 477h2v2h-2zM282 477h2v2h-2zM284 477h2v2h-2zM286 477h2v2h-2zM288 477h2v2h-2zM290 477h2v2h-2zM296 477h2v2h-2zM300 477h2v2h-2zM304 477h2v2h-2zM338 477h2v2h-2zM346 477h2v2h-2zM348 477h2v2h-2zM350 477h2v2h-2zM352 477h2v2h-2zM356 477h2v2h-2zM358 477h2v2h-2zM366 477h2v2h-2zM250 479h2v2h-2zM266 479h2v2h-2zM272 479h2v2h-2zM274 479h2v2h-2zM276 479h2v2h-2zM278 479h2v2h-2zM280 479h2v2h-2zM284 479h2v2h-2zM286 479h2v2h-2zM296 479h2v2h-2zM332 479h2v2h-2zM336 479h2v2h-2zM342 479h2v2h-2zM346 479h2v2h-2zM350 479h2v2h-2zM352 479h2v2h-2zM354 479h2v2h-2zM362 479h2v2h-2zM256 481h2v2h-2zM258 481h2v2h-2zM264 481h2v2h-2zM270 481h2v2h-2zM272 481h2v2h-2zM274 481h2v2h-2zM280 481h2v2h-2zM282 481h2v2h-2zM284 481h2v2h-2zM286 481h2v2h-2zM288 481h2v2h-2zM300 481h2v2h-2zM338 481h2v2h-2zM344 481h2v2h-2zM346 481h2v2h-2zM354 481h2v2h-2zM358 481h2v2h-2zM364 481h2v2h-2zM240 483h2v2h-2zM254 483h2v2h-2zM266 483h2v2h-2zM272 483h2v2h-2zM276 483h2v2h-2zM278 483h2v2h-2zM282 483h2v2h-2zM288 483h2v2h-2zM294 483h2v2h-2zM342 483h2v2h-2zM344 483h2v2h-2zM346 483h2v2h-2zM350 483h2v2h-2zM354 483h2v2h-2zM360 483h2v2h-2zM260 485h2v2h-2zM262 485h2v2h-2zM266 485h2v2h-2zM268 485h2v2h-2zM270 485h2v2h-2zM272 485h2v2h-2zM274 485h2v2h-2zM276 485h2v2h-2zM278 485h2v2h-2zM280 485h2v2h-2zM284 485h2v2h-2zM326 485h2v2h-2zM336 485h2v2h-2zM340 485h2v2h-2zM344 485h2v2h-2zM346 485h2v2h-2zM348 485h2v2h-2zM356 485h2v2h-2zM358 485h2v2h-2zM360 485h2v2h-2zM260 487h2v2h-2zM264 487h2v2h-2zM266 487h2v2h-2zM268 487h2v2h-2zM270 487h2v2h-2zM272 487h2v2h-2zM276 487h2v2h-2zM278 487h2v2h-2zM280 487h2v2h-2zM286 487h2v2h-2zM288 487h2v2h-2zM324 487h2v2h-2zM330 487h2v2h-2zM338 487h2v2h-2zM344 487h2v2h-2zM348 487h2v2h-2zM352 487h2v2h-2zM354 487h2v2h-2zM356 487h2v2h-2zM360 487h2v2h-2zM362 487h2v2h-2zM256 489h2v2h-2zM268 489h2v2h-2zM274 489h2v2h-2zM278 489h2v2h-2zM324 489h2v2h-2zM336 489h2v2h-2zM338 489h2v2h-2zM340 489h2v2h-2zM368 489h2v2h-2zM264 491h2v2h-2zM266 491h2v2h-2zM268 491h2v2h-2zM270 491h2v2h-2zM272 491h2v2h-2zM278 491h2v2h-2zM338 491h2v2h-2zM342 491h2v2h-2zM344 491h2v2h-2zM346 491h2v2h-2zM348 491h2v2h-2zM350 491h2v2h-2zM352 491h2v2h-2zM248 493h2v2h-2zM258 493h2v2h-2zM264 493h2v2h-2zM268 493h2v2h-2zM270 493h2v2h-2zM274 493h2v2h-2zM276 493h2v2h-2zM278 493h2v2h-2zM336 493h2v2h-2zM338 493h2v2h-2zM340 493h2v2h-2zM342 493h2v2h-2zM344 493h2v2h-2zM346 493h2v2h-2zM348 493h2v2h-2zM352 493h2v2h-2zM356 493h2v2h-2zM232 495h2v2h-2zM252 495h2v2h-2zM256 495h2v2h-2zM260 495h2v2h-2zM262 495h2v2h-2zM272 495h2v2h-2zM274 495h2v2h-2zM338 495h2v2h-2zM342 495h2v2h-2zM344 495h2v2h-2zM346 495h2v2h-2zM352 495h2v2h-2zM246 497h2v2h-2zM250 497h2v2h-2zM256 497h2v2h-2zM258 497h2v2h-2zM262 497h2v2h-2zM266 497h2v2h-2zM272 497h2v2h-2zM274 497h2v2h-2zM336 497h2v2h-2zM338 497h2v2h-2zM340 497h2v2h-2zM342 497h2v2h-2zM348 497h2v2h-2zM358 497h2v2h-2zM242 499h2v2h-2zM254 499h2v2h-2zM258 499h2v2h-2zM262 499h2v2h-2zM266 499h2v2h-2zM268 499h2v2h-2zM336 499h2v2h-2zM338 499h2v2h-2zM340 499h2v2h-2zM342 499h2v2h-2zM350 499h2v2h-2zM352 499h2v2h-2zM240 501h2v2h-2zM250 501h2v2h-2zM252 501h2v2h-2zM256 501h2v2h-2zM260 501h2v2h-2zM266 501h2v2h-2zM334 501h2v2h-2zM336 501h2v2h-2zM338 501h2v2h-2zM340 501h2v2h-2zM342 501h2v2h-2zM348 501h2v2h-2zM350 501h2v2h-2zM352 501h2v2h-2zM226 503h2v2h-2zM252 503h2v2h-2zM254 503h2v2h-2zM258 503h2v2h-2zM262 503h2v2h-2zM334 503h2v2h-2zM336 503h2v2h-2zM338 503h2v2h-2zM342 503h2v2h-2zM348 503h2v2h-2zM360 503h2v2h-2zM242 505h2v2h-2zM246 505h2v2h-2zM252 505h2v2h-2zM258 505h2v2h-2zM264 505h2v2h-2zM266 505h2v2h-2zM268 505h2v2h-2zM334 505h2v2h-2zM342 505h2v2h-2zM344 505h2v2h-2zM244 507h2v2h-2zM246 507h2v2h-2zM248 507h2v2h-2zM252 507h2v2h-2zM258 507h2v2h-2zM262 507h2v2h-2zM330 507h2v2h-2zM338 507h2v2h-2zM340 507h2v2h-2zM342 507h2v2h-2zM364 507h2v2h-2zM236 509h2v2h-2zM242 509h2v2h-2zM246 509h2v2h-2zM248 509h2v2h-2zM252 509h2v2h-2zM254 509h2v2h-2zM256 509h2v2h-2zM324 509h2v2h-2zM334 509h2v2h-2zM338 509h2v2h-2zM340 509h2v2h-2zM344 509h2v2h-2zM224 511h2v2h-2zM236 511h2v2h-2zM244 511h2v2h-2zM246 511h2v2h-2zM250 511h2v2h-2zM252 511h2v2h-2zM258 511h2v2h-2zM322 511h2v2h-2zM324 511h2v2h-2zM326 511h2v2h-2zM330 511h2v2h-2zM336 511h2v2h-2zM232 513h2v2h-2zM240 513h2v2h-2zM244 513h2v2h-2zM246 513h2v2h-2zM248 513h2v2h-2zM252 513h2v2h-2zM254 513h2v2h-2zM322 513h2v2h-2zM332 513h2v2h-2zM342 513h2v2h-2zM346 513h2v2h-2zM230 515h2v2h-2zM320 515h2v2h-2zM322 515h2v2h-2zM324 515h2v2h-2zM326 515h2v2h-2zM336 515h2v2h-2zM228 517h2v2h-2zM230 517h2v2h-2zM236 517h2v2h-2zM244 517h2v2h-2zM246 517h2v2h-2zM322 517h2v2h-2zM326 517h2v2h-2zM330 517h2v2h-2zM334 517h2v2h-2zM338 517h2v2h-2zM200 519h2v2h-2zM214 519h2v2h-2zM224 519h2v2h-2zM230 519h2v2h-2zM314 519h2v2h-2zM320 519h2v2h-2zM324 519h2v2h-2zM328 519h2v2h-2zM332 519h2v2h-2zM336 519h2v2h-2zM228 521h2v2h-2zM238 521h2v2h-2zM240 521h2v2h-2zM242 521h2v2h-2zM250 521h2v2h-2zM310 521h2v2h-2zM316 521h2v2h-2zM318 521h2v2h-2zM322 521h2v2h-2zM330 521h2v2h-2zM200 523h2v2h-2zM212 523h2v2h-2zM220 523h2v2h-2zM224 523h2v2h-2zM226 523h2v2h-2zM232 523h2v2h-2zM234 523h2v2h-2zM236 523h2v2h-2zM242 523h2v2h-2zM246 523h2v2h-2zM306 523h2v2h-2zM310 523h2v2h-2zM312 523h2v2h-2zM318 523h2v2h-2zM326 523h2v2h-2zM336 523h2v2h-2zM198 525h2v2h-2zM212 525h2v2h-2zM218 525h2v2h-2zM220 525h2v2h-2zM232 525h2v2h-2zM236 525h2v2h-2zM270 525h2v2h-2zM304 525h2v2h-2zM310 525h2v2h-2zM312 525h2v2h-2zM316 525h2v2h-2zM320 525h2v2h-2zM200 527h2v2h-2zM202 527h2v2h-2zM210 527h2v2h-2zM214 527h2v2h-2zM216 527h2v2h-2zM220 527h2v2h-2zM222 527h2v2h-2zM224 527h2v2h-2zM226 527h2v2h-2zM228 527h2v2h-2zM232 527h2v2h-2zM292 527h2v2h-2zM296 527h2v2h-2zM298 527h2v2h-2zM300 527h2v2h-2zM304 527h2v2h-2zM306 527h2v2h-2zM188 529h2v2h-2zM192 529h2v2h-2zM198 529h2v2h-2zM206 529h2v2h-2zM210 529h2v2h-2zM214 529h2v2h-2zM218 529h2v2h-2zM222 529h2v2h-2zM224 529h2v2h-2zM226 529h2v2h-2zM230 529h2v2h-2zM234 529h2v2h-2zM276 529h2v2h-2zM294 529h2v2h-2zM296 529h2v2h-2zM298 529h2v2h-2zM302 529h2v2h-2zM310 529h2v2h-2zM316 529h2v2h-2zM176 531h2v2h-2zM186 531h2v2h-2zM192 531h2v2h-2zM202 531h2v2h-2zM204 531h2v2h-2zM206 531h2v2h-2zM210 531h2v2h-2zM214 531h2v2h-2zM216 531h2v2h-2zM218 531h2v2h-2zM222 531h2v2h-2zM224 531h2v2h-2zM226 531h2v2h-2zM228 531h2v2h-2zM230 531h2v2h-2zM236 531h2v2h-2zM238 531h2v2h-2zM244 531h2v2h-2zM250 531h2v2h-2zM252 531h2v2h-2zM280 531h2v2h-2zM288 531h2v2h-2zM294 531h2v2h-2zM298 531h2v2h-2zM304 531h2v2h-2zM306 531h2v2h-2zM312 531h2v2h-2zM178 533h2v2h-2zM186 533h2v2h-2zM204 533h2v2h-2zM210 533h2v2h-2zM218 533h2v2h-2zM222 533h2v2h-2zM228 533h2v2h-2zM234 533h2v2h-2zM236 533h2v2h-2zM240 533h2v2h-2zM248 533h2v2h-2zM250 533h2v2h-2zM252 533h2v2h-2zM256 533h2v2h-2zM264 533h2v2h-2zM274 533h2v2h-2zM278 533h2v2h-2zM286 533h2v2h-2zM290 533h2v2h-2zM298 533h2v2h-2zM312 533h2v2h-2zM318 533h2v2h-2zM194 535h2v2h-2zM218 535h2v2h-2zM222 535h2v2h-2zM224 535h2v2h-2zM228 535h2v2h-2zM232 535h2v2h-2zM236 535h2v2h-2zM238 535h2v2h-2zM240 535h2v2h-2zM242 535h2v2h-2zM246 535h2v2h-2zM248 535h2v2h-2zM250 535h2v2h-2zM254 535h2v2h-2zM256 535h2v2h-2zM258 535h2v2h-2zM264 535h2v2h-2zM266 535h2v2h-2zM272 535h2v2h-2zM276 535h2v2h-2zM278 535h2v2h-2zM280 535h2v2h-2zM282 535h2v2h-2zM284 535h2v2h-2zM286 535h2v2h-2zM288 535h2v2h-2zM292 535h2v2h-2zM294 535h2v2h-2zM296 535h2v2h-2zM206 537h2v2h-2zM230 537h2v2h-2zM234 537h2v2h-2zM236 537h2v2h-2zM244 537h2v2h-2zM248 537h2v2h-2zM250 537h2v2h-2zM256 537h2v2h-2zM258 537h2v2h-2zM260 537h2v2h-2zM262 537h2v2h-2zM264 537h2v2h-2zM272 537h2v2h-2zM274 537h2v2h-2zM282 537h2v2h-2zM288 537h2v2h-2zM290 537h2v2h-2zM292 537h2v2h-2zM300 537h2v2h-2zM302 537h2v2h-2zM182 539h2v2h-2zM224 539h2v2h-2zM230 539h2v2h-2zM244 539h2v2h-2zM246 539h2v2h-2zM250 539h2v2h-2zM258 539h2v2h-2zM262 539h2v2h-2zM266 539h2v2h-2zM268 539h2v2h-2zM270 539h2v2h-2zM272 539h2v2h-2zM282 539h2v2h-2zM286 539h2v2h-2zM296 539h2v2h-2zM194 541h2v2h-2zM200 541h2v2h-2zM214 541h2v2h-2zM216 541h2v2h-2zM220 541h2v2h-2zM240 541h2v2h-2zM244 541h2v2h-2zM246 541h2v2h-2zM248 541h2v2h-2zM250 541h2v2h-2zM258 541h2v2h-2zM266 541h2v2h-2zM272 541h2v2h-2zM276 541h2v2h-2zM288 541h2v2h-2zM290 541h2v2h-2zM294 541h2v2h-2zM298 541h2v2h-2zM240 543h2v2h-2zM256 543h2v2h-2zM258 543h2v2h-2zM264 543h2v2h-2zM266 543h2v2h-2zM280 543h2v2h-2zM212 545h2v2h-2zM222 545h2v2h-2zM234 545h2v2h-2zM246 545h2v2h-2zM254 545h2v2h-2zM258 545h2v2h-2zM262 545h2v2h-2zM264 545h2v2h-2zM270 545h2v2h-2zM276 545h2v2h-2zM290 545h2v2h-2zM294 545h2v2h-2zM240 547h2v2h-2zM250 547h2v2h-2zM252 547h2v2h-2zM272 547h2v2h-2zM286 547h2v2h-2zM226 549h2v2h-2zM246 549h2v2h-2zM252 549h2v2h-2zM274 549h2v2h-2zM368 49h2v2h-2zM378 57h2v2h-2zM386 49h2v2h-2zM392 51h2v2h-2zM382 61h2v2h-2zM398 59h2v2h-2zM412 59h2v2h-2zM412 47h2v2h-2zM384 91h2v2h-2zM384 101h2v2h-2zM372 113h2v2h-2zM376 113h2v2h-2zM380 113h2v2h-2zM384 113h2v2h-2zM386 113h2v2h-2zM398 133h2v2h-2zM416 139h2v2h-2zM382 129h2v2h-2zM400 173h2v2h-2zM420 183h2v2h-2zM386 209h2v2h-2zM398 231h2v2h-2zM404 261h2v2h-2zM400 287h2v2h-2zM442 327h2v2h-2zM468 369h2v2h-2zM434 405h2v2h-2zM396 339h2v2h-2zM392 357h2v2h-2zM384 349h2v2h-2zM396 391h2v2h-2zM402 391h2v2h-2zM402 399h2v2h-2zM402 405h2v2h-2zM406 413h2v2h-2zM394 421h2v2h-2zM400 427h2v2h-2zM408 433h2v2h-2zM396 441h2v2h-2zM390 447h2v2h-2zM394 453h2v2h-2zM398 465h2v2h-2zM420 473h2v2h-2zM424 481h2v2h-2zM396 477h2v2h-2zM384 487h2v2h-2zM398 493h2v2h-2zM378 497h2v2h-2zM366 503h2v2h-2zM376 503h2v2h-2zM440 507h2v2h-2zM412 511h2v2h-2zM446 519h2v2h-2zM366 513h2v2h-2zM378 507h2v2h-2zM246 401h2v2h-2zM230 465h2v2h-2zM218 487h2v2h-2zM240 479h2v2h-2zM252 457h2v2h-2zM266 425h2v2h-2zM270 409h2v2h-2zM276 415h2v2h-2zM286 413h2v2h-2zM284 383h2v2h-2zM288 393h2v2h-2zM290 373h2v2h-2zM288 343h2v2h-2zM294 309h2v2h-2zM294 327h2v2h-2zM260 449h2v2h-2zM266 449h2v2h-2zM262 473h2v2h-2zM274 461h2v2h-2zM174 535h2v2h-2zM196 525h2v2h-2zM204 521h2v2h-2zM226 509h2v2h-2zM228 503h2v2h-2zM294 189h2v2h-2zM292 255h2v2h-2zM302 171h2v2h-2zM314 125h2v2h-2z"/>
<path fill="#0040ff" d="M346 59h2v2h-2zM340 67h2v2h-2zM350 69h2v2h-2zM342 75h2v2h-2zM340 79h2v2h-2zM336 85h2v2h-2zM340 85h2v2h-2zM344 85h2v2h-2zM346 87h2v2h-2zM350 87h2v2h-2zM336 89h2v2h-2zM338 89h2v2h-2zM338 91h2v2h-2zM346 91h2v2h-2zM340 93h2v2h-2zM344 93h2v2h-2zM344 95h2v2h-2zM346 95h2v2h-2zM348 95h2v2h-2zM338 99h2v2h-2zM346 99h2v2h-2zM338 101h2v2h-2zM346 101h2v2h-2zM342 103h2v2h-2zM344 103h2v2h-2zM358 103h2v2h-2zM336 107h2v2h-2zM332 109h2v2h-2zM340 109h2v2h-2zM348 109h2v2h-2zM342 111h2v2h-2zM350 111h2v2h-2zM334 113h2v2h-2zM336 113h2v2h-2zM338 113h2v2h-2zM346 113h2v2h-2zM348 113h2v2h-2zM356 113h2v2h-2zM332 115h2v2h-2zM336 115h2v2h-2zM342 117h2v2h-2zM344 117h2v2h-2zM342 119h2v2h-2zM344 119h2v2h-2zM352 119h2v2h-2zM358 119h2v2h-2zM332 121h2v2h-2zM338 121h2v2h-2zM344 121h2v2h-2zM338 123h2v2h-2zM352 123h2v2h-2zM340 125h2v2h-2zM346 125h2v2h-2zM352 125h2v2h-2zM328 127h2v2h-2zM336 127h2v2h-2zM342 127h2v2h-2zM344 127h2v2h-2zM346 127h2v2h-2zM348 127h2v2h-2zM358 127h2v2h-2zM332 129h2v2h-2zM352 129h2v2h-2zM334 131h2v2h-2zM336 131h2v2h-2zM352 131h2v2h-2zM334 133h2v2h-2zM348 135h2v2h-2zM350 135h2v2h-2zM352 135h2v2h-2zM358 135h2v2h-2zM332 137h2v2h-2zM326 139h2v2h-2zM332 139h2v2h-2zM328 143h2v2h-2zM330 143h2v2h-2zM336 143h2v2h-2zM348 143h2v2h-2zM360 143h2v2h-2zM352 145h2v2h-2zM322 147h2v2h-2zM326 147h2v2h-2zM354 147h2v2h-2zM356 147h2v2h-2zM324 149h2v2h-2zM330 149h2v2h-2zM332 149h2v2h-2zM352 149h2v2h-2zM350 151h2v2h-2zM358 151h2v2h-2zM332 153h2v2h-2zM352 153h2v2h-2zM360 153h2v2h-2zM332 155h2v2h-2zM352 155h2v2h-2zM334 157h2v2h-2zM342 157h2v2h-2zM354 157h2v2h-2zM328 159h2v2h-2zM358 159h2v2h-2zM340 163h2v2h-2zM352 163h2v2h-2zM356 163h2v2h-2zM324 165h2v2h-2zM354 165h2v2h-2zM358 165h2v2h-2zM360 165h2v2h-2zM364 165h2v2h-2zM324 167h2v2h-2zM326 167h2v2h-2zM352 167h2v2h-2zM354 167h2v2h-2zM356 167h2v2h-2zM322 171h2v2h-2zM326 171h2v2h-2zM358 171h2v2h-2zM324 173h2v2h-2zM326 173h2v2h-2zM344 173h2v2h-2zM346 173h2v2h-2zM358 173h2v2h-2zM324 175h2v2h-2zM352 175h2v2h-2zM354 175h2v2h-2zM360 177h2v2h-2zM328 181h2v2h-2zM334 181h2v2h-2zM354 181h2v2h-2zM356 181h2v2h-2zM318 183h2v2h-2zM322 185h2v2h-2zM356 185h2v2h-2zM358 185h2v2h-2zM360 185h2v2h-2zM316 187h2v2h-2zM350 187h2v2h-2zM352 187h2v2h-2zM320 189h2v2h-2zM352 189h2v2h-2zM358 189h2v2h-2zM324 191h2v2h-2zM350 191h2v2h-2zM320 193h2v2h-2zM322 195h2v2h-2zM324 195h2v2h-2zM356 195h2v2h-2zM312 197h2v2h-2zM318 197h2v2h-2zM320 197h2v2h-2zM352 197h2v2h-2zM318 199h2v2h-2zM358 199h2v2h-2zM364 199h2v2h-2zM356 201h2v2h-2zM314 203h2v2h-2zM318 203h2v2h-2zM350 203h2v2h-2zM352 203h2v2h-2zM354 203h2v2h-2zM358 203h2v2h-2zM318 205h2v2h-2zM352 205h2v2h-2zM318 207h2v2h-2zM362 207h2v2h-2zM318 209h2v2h-2zM348 209h2v2h-2zM318 211h2v2h-2zM362 211h2v2h-2zM354 213h2v2h-2zM358 213h2v2h-2zM316 215h2v2h-2zM318 217h2v2h-2zM354 217h2v2h-2zM320 219h2v2h-2zM352 221h2v2h-2zM312 223h2v2h-2zM316 223h2v2h-2zM358 225h2v2h-2zM356 229h2v2h-2zM314 231h2v2h-2zM316 231h2v2h-2zM356 233h2v2h-2zM314 235h2v2h-2zM316 235h2v2h-2zM318 235h2v2h-2zM324 235h2v2h-2zM354 235h2v2h-2zM356 235h2v2h-2zM358 235h2v2h-2zM314 237h2v2h-2zM316 237h2v2h-2zM318 237h2v2h-2zM330 237h2v2h-2zM354 237h2v2h-2zM356 237h2v2h-2zM356 239h2v2h-2zM322 241h2v2h-2zM346 241h2v2h-2zM352 241h2v2h-2zM354 241h2v2h-2zM316 245h2v2h-2zM354 247h2v2h-2zM362 247h2v2h-2zM314 249h2v2h-2zM312 251h2v2h-2zM316 251h2v2h-2zM336 251h2v2h-2zM354 251h2v2h-2zM360 251h2v2h-2zM356 253h2v2h-2zM310 255h2v2h-2zM320 255h2v2h-2zM352 257h2v2h-2zM316 259h2v2h-2zM318 259h2v2h-2zM360 259h2v2h-2zM314 261h2v2h-2zM344 261h2v2h-2zM316 263h2v2h-2zM356 263h2v2h-2zM348 267h2v2h-2zM358 267h2v2h-2zM310 269h2v2h-2zM318 269h2v2h-2zM354 269h2v2h-2zM362 269h2v2h-2zM312 271h2v2h-2zM350 271h2v2h-2zM354 271h2v2h-2zM318 273h2v2h-2zM320 273h2v2h-2zM354 273h2v2h-2zM314 275h2v2h-2zM356 275h2v2h-2zM362 275h2v2h-2zM316 277h2v2h-2zM352 277h2v2h-2zM356 277h2v2h-2zM362 277h2v2h-2zM318 279h2v2h-2zM352 279h2v2h-2zM354 279h2v2h-2zM356 279h2v2h-2zM316 281h2v2h-2zM354 281h2v2h-2zM356 281h2v2h-2zM312 283h2v2h-2zM318 283h2v2h-2zM352 283h2v2h-2zM358 283h2v2h-2zM346 285h2v2h-2zM352 285h2v2h-2zM312 287h2v2h-2zM354 287h2v2h-2zM356 287h2v2h-2zM314 289h2v2h-2zM316 289h2v2h-2zM350 289h2v2h-2zM362 289h2v2h-2zM312 291h2v2h-2zM314 291h2v2h-2zM318 291h2v2h-2zM346 291h2v2h-2zM350 293h2v2h-2zM352 293h2v2h-2zM310 295h2v2h-2zM320 295h2v2h-2zM328 297h2v2h-2zM346 297h2v2h-2zM352 297h2v2h-2zM354 297h2v2h-2zM316 299h2v2h-2zM320 299h2v2h-2zM348 301h2v2h-2zM352 301h2v2h-2zM360 301h2v2h-2zM326 303h2v2h-2zM350 303h2v2h-2zM352 305h2v2h-2zM312 307h2v2h-2zM314 307h2v2h-2zM320 307h2v2h-2zM346 307h2v2h-2zM314 309h2v2h-2zM316 309h2v2h-2zM340 309h2v2h-2zM344 309h2v2h-2zM310 311h2v2h-2zM352 311h2v2h-2zM304 313h2v2h-2zM314 313h2v2h-2zM316 313h2v2h-2zM320 315h2v2h-2zM342 315h2v2h-2zM348 315h2v2h-2zM352 315h2v2h-2zM332 317h2v2h-2zM334 317h2v2h-2zM352 317h2v2h-2zM322 319h2v2h-2zM326 319h2v2h-2zM348 319h2v2h-2zM356 319h2v2h-2zM330 321h2v2h-2zM350 321h2v2h-2zM354 321h2v2h-2zM360 321h2v2h-2zM318 323h2v2h-2zM324 323h2v2h-2zM350 323h2v2h-2zM352 323h2v2h-2zM318 325h2v2h-2zM336 325h2v2h-2zM358 325h2v2h-2zM312 327h2v2h-2zM314 327h2v2h-2zM320 327h2v2h-2zM326 327h2v2h-2zM330 327h2v2h-2zM332 327h2v2h-2zM334 327h2v2h-2zM348 327h2v2h-2zM352 327h2v2h-2zM328 329h2v2h-2zM340 331h2v2h-2zM348 331h2v2h-2zM350 331h2v2h-2zM320 333h2v2h-2zM354 333h2v2h-2zM318 335h2v2h-2zM320 335h2v2h-2zM324 335h2v2h-2zM340 335h2v2h-2zM320 337h2v2h-2zM336 337h2v2h-2zM348 337h2v2h-2zM350 337h2v2h-2zM352 337h2v2h-2zM358 337h2v2h-2zM320 339h2v2h-2zM324 339h2v2h-2zM332 339h2v2h-2zM346 339h2v2h-2zM354 339h2v2h-2zM328 341h2v2h-2zM332 341h2v2h-2zM334 341h2v2h-2zM338 341h2v2h-2zM352 341h2v2h-2zM312 343h2v2h-2zM318 343h2v2h-2zM340 343h2v2h-2zM344 343h2v2h-2zM348 343h2v2h-2zM354 343h2v2h-2zM316 345h2v2h-2zM336 345h2v2h-2zM352 345h2v2h-2zM330 347h2v2h-2zM336 347h2v2h-2zM338 347h2v2h-2zM342 347h2v2h-2zM354 347h2v2h-2zM318 349h2v2h-2zM320 349h2v2h-2zM324 349h2v2h-2zM334 349h2v2h-2zM348 349h2v2h-2zM358 349h2v2h-2zM336 351h2v2h-2zM342 351h2v2h-2zM348 351h2v2h-2zM326 353h2v2h-2zM330 353h2v2h-2zM336 353h2v2h-2zM338 353h2v2h-2zM348 353h2v2h-2zM320 355h2v2h-2zM326 355h2v2h-2zM328 355h2v2h-2zM334 355h2v2h-2zM350 355h2v2h-2zM356 355h2v2h-2zM354 357h2v2h-2zM318 359h2v2h-2zM322 359h2v2h-2zM338 359h2v2h-2zM342 359h2v2h-2zM354 359h2v2h-2zM358 359h2v2h-2zM316 361h2v2h-2zM336 361h2v2h-2zM340 361h2v2h-2zM342 361h2v2h-2zM322 363h2v2h-2zM324 363h2v2h-2zM338 363h2v2h-2zM348 363h2v2h-2zM322 365h2v2h-2zM328 365h2v2h-2zM332 365h2v2h-2zM338 365h2v2h-2zM340 365h2v2h-2zM350 365h2v2h-2zM354 365h2v2h-2zM330 367h2v2h-2zM340 367h2v2h-2zM342 367h2v2h-2zM348 367h2v2h-2zM350 367h2v2h-2zM360 367h2v2h-2zM326 369h2v2h-2zM330 369h2v2h-2zM344 369h2v2h-2zM354 369h2v2h-2zM322 371h2v2h-2zM342 371h2v2h-2zM344 371h2v2h-2zM354 371h2v2h-2zM322 373h2v2h-2zM352 373h2v2h-2zM318 375h2v2h-2zM324 375h2v2h-2zM334 375h2v2h-2zM340 375h2v2h-2zM344 375h2v2h-2zM348 375h2v2h-2zM326 377h2v2h-2zM330 377h2v2h-2zM336 377h2v2h-2zM340 377h2v2h-2zM344 377h2v2h-2zM346 377h2v2h-2zM326 379h2v2h-2zM334 379h2v2h-2zM338 379h2v2h-2zM316 381h2v2h-2zM330 381h2v2h-2zM336 381h2v2h-2zM340 381h2v2h-2zM342 381h2v2h-2zM326 383h2v2h-2zM336 383h2v2h-2zM340 383h2v2h-2zM330 385h2v2h-2zM336 385h2v2h-2zM336 387h2v2h-2zM352 387h2v2h-2zM330 389h2v2h-2zM338 389h2v2h-2zM344 389h2v2h-2zM350 389h2v2h-2zM326 391h2v2h-2zM336 391h2v2h-2zM334 393h2v2h-2zM344 393h2v2h-2zM326 395h2v2h-2zM328 395h2v2h-2zM334 395h2v2h-2zM342 395h2v2h-2zM348 397h2v2h-2zM350 397h2v2h-2zM318 399h2v2h-2zM322 399h2v2h-2zM330 399h2v2h-2zM338 399h2v2h-2zM348 399h2v2h-2zM348 401h2v2h-2zM358 401h2v2h-2zM338 403h2v2h-2zM342 403h2v2h-2zM348 403h2v2h-2zM352 403h2v2h-2zM356 403h2v2h-2zM324 405h2v2h-2zM326 405h2v2h-2zM330 405h2v2h-2zM336 405h2v2h-2zM344 405h2v2h-2zM332 407h2v2h-2zM342 407h2v2h-2zM346 407h2v2h-2zM358 407h2v2h-2zM328 409h2v2h-2zM330 409h2v2h-2zM326 411h2v2h-2zM330 411h2v2h-2zM336 411h2v2h-2zM348 411h2v2h-2zM356 411h2v2h-2zM324 413h2v2h-2zM330 413h2v2h-2zM334 413h2v2h-2zM340 413h2v2h-2zM342 413h2v2h-2zM344 413h2v2h-2zM346 413h2v2h-2zM348 415h2v2h-2zM336 417h2v2h-2zM340 417h2v2h-2zM348 417h2v2h-2zM350 417h2v2h-2zM320 419h2v2h-2zM322 419h2v2h-2zM328 419h2v2h-2zM336 419h2v2h-2zM350 419h2v2h-2zM352 419h2v2h-2zM322 421h2v2h-2zM326 421h2v2h-2zM348 421h2v2h-2zM350 421h2v2h-2zM354 421h2v2h-2zM310 423h2v2h-2zM320 423h2v2h-2zM332 423h2v2h-2zM334 423h2v2h-2zM340 423h2v2h-2zM348 425h2v2h-2zM330 427h2v2h-2zM334 427h2v2h-2zM348 427h2v2h-2zM358 427h2v2h-2zM314 429h2v2h-2zM320 429h2v2h-2zM326 429h2v2h-2zM328 429h2v2h-2zM338 429h2v2h-2zM342 429h2v2h-2zM344 429h2v2h-2zM314 431h2v2h-2zM330 431h2v2h-2zM342 431h2v2h-2zM348 431h2v2h-2zM330 433h2v2h-2zM336 433h2v2h-2zM352 433h2v2h-2zM312 435h2v2h-2zM320 435h2v2h-2zM322 435h2v2h-2zM330 435h2v2h-2zM340 435h2v2h-2zM316 437h2v2h-2zM332 437h2v2h-2zM342 437h2v2h-2zM320 439h2v2h-2zM324 439h2v2h-2zM348 439h2v2h-2zM328 441h2v2h-2zM330 441h2v2h-2zM334 441h2v2h-2zM348 441h2v2h-2zM304 443h2v2h-2zM312 443h2v2h-2zM314 443h2v2h-2zM324 443h2v2h-2zM326 443h2v2h-2zM332 443h2v2h-2zM334 443h2v2h-2zM342 443h2v2h-2zM344 443h2v2h-2zM342 445h2v2h-2zM344 445h2v2h-2zM354 445h2v2h-2zM320 447h2v2h-2zM322 447h2v2h-2zM330 447h2v2h-2zM338 447h2v2h-2zM344 447h2v2h-2zM314 449h2v2h-2zM340 449h2v2h-2zM344 449h2v2h-2zM316 451h2v2h-2zM320 451h2v2h-2zM334 451h2v2h-2zM348 451h2v2h-2zM314 453h2v2h-2zM316 453h2v2h-2zM322 453h2v2h-2zM342 453h2v2h-2zM310 455h2v2h-2zM316 455h2v2h-2zM318 455h2v2h-2zM326 455h2v2h-2zM344 455h2v2h-2zM318 457h2v2h-2zM326 457h2v2h-2zM334 457h2v2h-2zM338 457h2v2h-2zM340 457h2v2h-2zM352 457h2v2h-2zM314 459h2v2h-2zM332 459h2v2h-2zM338 459h2v2h-2zM342 459h2v2h-2zM308 461h2v2h-2zM312 461h2v2h-2zM320 461h2v2h-2zM330 461h2v2h-2zM332 461h2v2h-2zM334 461h2v2h-2zM344 461h2v2h-2zM310 463h2v2h-2zM312 463h2v2h-2zM316 463h2v2h-2zM318 463h2v2h-2zM320 463h2v2h-2zM324 463h2v2h-2zM328 463h2v2h-2zM332 463h2v2h-2zM336 463h2v2h-2zM286 465h2v2h-2zM304 465h2v2h-2zM336 465h2v2h-2zM342 465h2v2h-2zM300 467h2v2h-2zM312 467h2v2h-2zM314 467h2v2h-2zM316 467h2v2h-2zM318 467h2v2h-2zM324 467h2v2h-2zM342 467h2v2h-2zM348 467h2v2h-2zM310 469h2v2h-2zM318 469h2v2h-2zM336 469h2v2h-2zM338 469h2v2h-2zM284 471h2v2h-2zM304 471h2v2h-2zM312 471h2v2h-2zM338 471h2v2h-2zM300 473h2v2h-2zM302 473h2v2h-2zM318 473h2v2h-2zM322 473h2v2h-2zM332 473h2v2h-2zM336 473h2v2h-2zM348 473h2v2h-2zM300 475h2v2h-2zM318 475h2v2h-2zM338 475h2v2h-2zM346 475h2v2h-2zM316 477h2v2h-2zM334 477h2v2h-2zM344 477h2v2h-2zM288 479h2v2h-2zM306 479h2v2h-2zM312 479h2v2h-2zM276 481h2v2h-2zM290 481h2v2h-2zM294 481h2v2h-2zM296 481h2v2h-2zM330 481h2v2h-2zM340 481h2v2h-2zM292 483h2v2h-2zM322 483h2v2h-2zM336 483h2v2h-2zM290 485h2v2h-2zM292 485h2v2h-2zM284 487h2v2h-2zM300 487h2v2h-2zM340 487h2v2h-2zM342 487h2v2h-2zM276 489h2v2h-2zM280 489h2v2h-2zM344 489h2v2h-2zM346 489h2v2h-2zM274 491h2v2h-2zM276 491h2v2h-2zM330 493h2v2h-2zM270 495h2v2h-2zM282 495h2v2h-2zM328 495h2v2h-2zM336 495h2v2h-2zM268 497h2v2h-2zM280 497h2v2h-2zM334 499h2v2h-2zM264 501h2v2h-2zM268 501h2v2h-2zM270 501h2v2h-2zM322 501h2v2h-2zM330 501h2v2h-2zM256 503h2v2h-2zM328 503h2v2h-2zM330 503h2v2h-2zM272 505h2v2h-2zM338 505h2v2h-2zM264 507h2v2h-2zM268 507h2v2h-2zM250 509h2v2h-2zM258 509h2v2h-2zM264 509h2v2h-2zM328 509h2v2h-2zM330 509h2v2h-2zM264 511h2v2h-2zM258 513h2v2h-2zM320 513h2v2h-2zM250 515h2v2h-2zM248 517h2v2h-2zM250 517h2v2h-2zM252 517h2v2h-2zM318 517h2v2h-2zM246 519h2v2h-2zM248 519h2v2h-2zM316 519h2v2h-2zM244 521h2v2h-2zM304 521h2v2h-2zM234 525h2v2h-2zM238 525h2v2h-2zM300 525h2v2h-2zM306 525h2v2h-2zM242 527h2v2h-2zM246 527h2v2h-2zM288 527h2v2h-2zM294 527h2v2h-2zM228 529h2v2h-2zM240 529h2v2h-2zM244 529h2v2h-2zM250 529h2v2h-2zM260 529h2v2h-2zM282 529h2v2h-2zM246 531h2v2h-2zM256 531h2v2h-2zM270 531h2v2h-2zM276 531h2v2h-2zM278 531h2v2h-2zM290 531h2v2h-2zM254 533h2v2h-2zM258 533h2v2h-2zM262 533h2v2h-2zM266 533h2v2h-2zM272 533h2v2h-2zM280 533h2v2h-2zM292 533h2v2h-2zM268 535h2v2h-2zM246 537h2v2h-2zM252 537h2v2h-2zM252 539h2v2h-2z"/>
<path fill="#0090ff" d="M346 81h2v2h-2zM348 87h2v2h-2zM354 95h2v2h-2zM338 97h2v2h-2zM340 101h2v2h-2zM340 105h2v2h-2zM344 105h2v2h-2zM348 105h2v2h-2zM340 107h2v2h-2zM344 107h2v2h-2zM336 109h2v2h-2zM342 109h2v2h-2zM346 109h2v2h-2zM348 111h2v2h-2zM342 115h2v2h-2zM344 115h2v2h-2zM334 117h2v2h-2zM340 117h2v2h-2zM346 117h2v2h-2zM348 117h2v2h-2zM338 119h2v2h-2zM346 119h2v2h-2zM350 119h2v2h-2zM342 121h2v2h-2zM354 121h2v2h-2zM334 123h2v2h-2zM350 125h2v2h-2zM334 127h2v2h-2zM350 129h2v2h-2zM344 131h2v2h-2zM348 131h2v2h-2zM350 131h2v2h-2zM332 133h2v2h-2zM338 133h2v2h-2zM340 133h2v2h-2zM342 133h2v2h-2zM348 133h2v2h-2zM352 133h2v2h-2zM330 135h2v2h-2zM332 135h2v2h-2zM338 135h2v2h-2zM340 135h2v2h-2zM336 137h2v2h-2zM352 137h2v2h-2zM354 137h2v2h-2zM334 139h2v2h-2zM336 139h2v2h-2zM342 139h2v2h-2zM350 139h2v2h-2zM332 141h2v2h-2zM338 141h2v2h-2zM340 141h2v2h-2zM342 141h2v2h-2zM348 141h2v2h-2zM350 141h2v2h-2zM342 143h2v2h-2zM352 143h2v2h-2zM354 143h2v2h-2zM358 145h2v2h-2zM330 147h2v2h-2zM340 147h2v2h-2zM344 147h2v2h-2zM352 147h2v2h-2zM348 149h2v2h-2zM356 149h2v2h-2zM328 151h2v2h-2zM332 151h2v2h-2zM346 151h2v2h-2zM366 151h2v2h-2zM328 153h2v2h-2zM334 153h2v2h-2zM336 153h2v2h-2zM338 153h2v2h-2zM340 153h2v2h-2zM342 153h2v2h-2zM344 153h2v2h-2zM348 153h2v2h-2zM354 153h2v2h-2zM356 153h2v2h-2zM336 155h2v2h-2zM348 155h2v2h-2zM354 155h2v2h-2zM328 157h2v2h-2zM332 157h2v2h-2zM344 157h2v2h-2zM358 157h2v2h-2zM326 159h2v2h-2zM348 159h2v2h-2zM352 159h2v2h-2zM354 159h2v2h-2zM360 159h2v2h-2zM350 161h2v2h-2zM352 161h2v2h-2zM356 161h2v2h-2zM324 163h2v2h-2zM332 163h2v2h-2zM338 163h2v2h-2zM328 165h2v2h-2zM330 165h2v2h-2zM340 165h2v2h-2zM348 165h2v2h-2zM352 165h2v2h-2zM328 167h2v2h-2zM346 167h2v2h-2zM348 167h2v2h-2zM326 169h2v2h-2zM330 169h2v2h-2zM334 169h2v2h-2zM354 169h2v2h-2zM316 171h2v2h-2zM328 171h2v2h-2zM336 171h2v2h-2zM342 171h2v2h-2zM330 173h2v2h-2zM340 173h2v2h-2zM342 173h2v2h-2zM330 175h2v2h-2zM332 175h2v2h-2zM336 177h2v2h-2zM326 179h2v2h-2zM332 179h2v2h-2zM334 179h2v2h-2zM338 179h2v2h-2zM356 179h2v2h-2zM322 181h2v2h-2zM326 181h2v2h-2zM338 181h2v2h-2zM346 181h2v2h-2zM350 181h2v2h-2zM358 181h2v2h-2zM324 183h2v2h-2zM332 183h2v2h-2zM358 183h2v2h-2zM324 185h2v2h-2zM328 185h2v2h-2zM338 185h2v2h-2zM320 187h2v2h-2zM322 187h2v2h-2zM356 187h2v2h-2zM322 189h2v2h-2zM324 189h2v2h-2zM342 189h2v2h-2zM354 189h2v2h-2zM356 189h2v2h-2zM322 191h2v2h-2zM330 191h2v2h-2zM348 191h2v2h-2zM354 191h2v2h-2zM326 193h2v2h-2zM352 193h2v2h-2zM356 193h2v2h-2zM312 195h2v2h-2zM316 197h2v2h-2zM354 197h2v2h-2zM358 197h2v2h-2zM320 201h2v2h-2zM342 201h2v2h-2zM350 201h2v2h-2zM352 201h2v2h-2zM324 205h2v2h-2zM334 207h2v2h-2zM336 207h2v2h-2zM352 207h2v2h-2zM356 207h2v2h-2zM346 209h2v2h-2zM354 209h2v2h-2zM356 209h2v2h-2zM358 209h2v2h-2zM316 211h2v2h-2zM356 211h2v2h-2zM318 213h2v2h-2zM324 213h2v2h-2zM328 213h2v2h-2zM348 215h2v2h-2zM354 215h2v2h-2zM362 215h2v2h-2zM346 219h2v2h-2zM350 221h2v2h-2zM354 221h2v2h-2zM352 223h2v2h-2zM354 223h2v2h-2zM356 223h2v2h-2zM320 225h2v2h-2zM346 225h2v2h-2zM352 225h2v2h-2zM312 227h2v2h-2zM350 227h2v2h-2zM352 227h2v2h-2zM356 227h2v2h-2zM336 229h2v2h-2zM350 229h2v2h-2zM352 229h2v2h-2zM310 231h2v2h-2zM330 231h2v2h-2zM352 231h2v2h-2zM356 231h2v2h-2zM312 233h2v2h-2zM322 233h2v2h-2zM352 233h2v2h-2zM360 233h2v2h-2zM322 235h2v2h-2zM350 235h2v2h-2zM312 237h2v2h-2zM320 237h2v2h-2zM358 237h2v2h-2zM316 241h2v2h-2zM358 241h2v2h-2zM316 243h2v2h-2zM322 243h2v2h-2zM350 243h2v2h-2zM360 243h2v2h-2zM356 245h2v2h-2zM358 245h2v2h-2zM316 247h2v2h-2zM352 247h2v2h-2zM356 247h2v2h-2zM350 249h2v2h-2zM352 249h2v2h-2zM354 249h2v2h-2zM356 249h2v2h-2zM318 251h2v2h-2zM312 253h2v2h-2zM316 253h2v2h-2zM350 253h2v2h-2zM354 253h2v2h-2zM314 255h2v2h-2zM316 255h2v2h-2zM354 255h2v2h-2zM356 255h2v2h-2zM314 257h2v2h-2zM322 257h2v2h-2zM324 257h2v2h-2zM312 259h2v2h-2zM332 259h2v2h-2zM346 261h2v2h-2zM354 261h2v2h-2zM348 263h2v2h-2zM354 263h2v2h-2zM316 265h2v2h-2zM346 265h2v2h-2zM348 265h2v2h-2zM322 267h2v2h-2zM350 267h2v2h-2zM356 267h2v2h-2zM316 269h2v2h-2zM320 269h2v2h-2zM350 269h2v2h-2zM352 269h2v2h-2zM314 271h2v2h-2zM346 271h2v2h-2zM348 271h2v2h-2zM318 275h2v2h-2zM350 275h2v2h-2zM352 275h2v2h-2zM312 277h2v2h-2zM318 277h2v2h-2zM320 277h2v2h-2zM344 277h2v2h-2zM346 277h2v2h-2zM350 277h2v2h-2zM314 279h2v2h-2zM320 279h2v2h-2zM322 279h2v2h-2zM312 281h2v2h-2zM318 281h2v2h-2zM314 283h2v2h-2zM324 283h2v2h-2zM328 283h2v2h-2zM350 283h2v2h-2zM354 283h2v2h-2zM308 285h2v2h-2zM314 285h2v2h-2zM320 285h2v2h-2zM322 285h2v2h-2zM348 285h2v2h-2zM350 285h2v2h-2zM316 287h2v2h-2zM322 287h2v2h-2zM336 287h2v2h-2zM352 287h2v2h-2zM324 289h2v2h-2zM340 289h2v2h-2zM346 289h2v2h-2zM352 289h2v2h-2zM316 291h2v2h-2zM320 291h2v2h-2zM344 291h2v2h-2zM324 295h2v2h-2zM338 295h2v2h-2zM346 295h2v2h-2zM318 297h2v2h-2zM348 297h2v2h-2zM350 297h2v2h-2zM330 299h2v2h-2zM334 299h2v2h-2zM308 301h2v2h-2zM320 301h2v2h-2zM338 301h2v2h-2zM344 301h2v2h-2zM356 301h2v2h-2zM330 303h2v2h-2zM316 305h2v2h-2zM324 305h2v2h-2zM328 305h2v2h-2zM344 305h2v2h-2zM348 305h2v2h-2zM316 307h2v2h-2zM318 307h2v2h-2zM322 307h2v2h-2zM338 307h2v2h-2zM342 307h2v2h-2zM334 309h2v2h-2zM350 309h2v2h-2zM330 311h2v2h-2zM330 313h2v2h-2zM344 313h2v2h-2zM348 313h2v2h-2zM322 315h2v2h-2zM328 315h2v2h-2zM340 315h2v2h-2zM340 317h2v2h-2zM348 317h2v2h-2zM330 319h2v2h-2zM346 319h2v2h-2zM322 321h2v2h-2zM326 321h2v2h-2zM334 321h2v2h-2zM342 321h2v2h-2zM346 321h2v2h-2zM348 321h2v2h-2zM352 321h2v2h-2zM322 323h2v2h-2zM326 323h2v2h-2zM328 323h2v2h-2zM342 323h2v2h-2zM344 323h2v2h-2zM320 325h2v2h-2zM338 325h2v2h-2zM340 325h2v2h-2zM342 325h2v2h-2zM340 327h2v2h-2zM342 327h2v2h-2zM318 329h2v2h-2zM320 329h2v2h-2zM322 329h2v2h-2zM334 329h2v2h-2zM336 329h2v2h-2zM324 331h2v2h-2zM334 331h2v2h-2zM344 331h2v2h-2zM318 333h2v2h-2zM338 333h2v2h-2zM352 333h2v2h-2zM328 335h2v2h-2zM336 335h2v2h-2zM342 335h2v2h-2zM324 337h2v2h-2zM340 337h2v2h-2zM346 337h2v2h-2zM322 339h2v2h-2zM326 339h2v2h-2zM328 339h2v2h-2zM340 339h2v2h-2zM348 339h2v2h-2zM324 341h2v2h-2zM326 341h2v2h-2zM354 341h2v2h-2zM334 343h2v2h-2zM338 343h2v2h-2zM346 343h2v2h-2zM322 345h2v2h-2zM324 345h2v2h-2zM334 345h2v2h-2zM344 345h2v2h-2zM346 345h2v2h-2zM348 345h2v2h-2zM320 347h2v2h-2zM348 347h2v2h-2zM340 349h2v2h-2zM342 349h2v2h-2zM346 349h2v2h-2zM354 349h2v2h-2zM338 351h2v2h-2zM344 351h2v2h-2zM352 351h2v2h-2zM330 355h2v2h-2zM332 355h2v2h-2zM338 355h2v2h-2zM346 355h2v2h-2zM328 357h2v2h-2zM332 357h2v2h-2zM344 357h2v2h-2zM346 357h2v2h-2zM348 357h2v2h-2zM330 359h2v2h-2zM332 359h2v2h-2zM334 359h2v2h-2zM346 359h2v2h-2zM330 361h2v2h-2zM344 361h2v2h-2zM316 363h2v2h-2zM332 363h2v2h-2zM334 363h2v2h-2zM344 363h2v2h-2zM346 363h2v2h-2zM346 365h2v2h-2zM328 367h2v2h-2zM346 369h2v2h-2zM328 371h2v2h-2zM332 371h2v2h-2zM336 371h2v2h-2zM348 371h2v2h-2zM332 373h2v2h-2zM340 373h2v2h-2zM342 373h2v2h-2zM344 373h2v2h-2zM354 373h2v2h-2zM330 375h2v2h-2zM336 375h2v2h-2zM342 375h2v2h-2zM352 375h2v2h-2zM338 377h2v2h-2zM362 377h2v2h-2zM340 379h2v2h-2zM342 379h2v2h-2zM344 379h2v2h-2zM352 379h2v2h-2zM326 381h2v2h-2zM344 381h2v2h-2zM346 381h2v2h-2zM354 381h2v2h-2zM334 383h2v2h-2zM346 383h2v2h-2zM354 383h2v2h-2zM334 385h2v2h-2zM342 385h2v2h-2zM348 385h2v2h-2zM352 385h2v2h-2zM340 387h2v2h-2zM348 387h2v2h-2zM342 389h2v2h-2zM338 391h2v2h-2zM346 391h2v2h-2zM338 393h2v2h-2zM356 393h2v2h-2zM330 395h2v2h-2zM340 395h2v2h-2zM334 397h2v2h-2zM346 397h2v2h-2zM342 401h2v2h-2zM344 401h2v2h-2zM352 401h2v2h-2zM332 403h2v2h-2zM336 403h2v2h-2zM332 405h2v2h-2zM342 405h2v2h-2zM334 407h2v2h-2zM338 407h2v2h-2zM344 407h2v2h-2zM348 407h2v2h-2zM336 409h2v2h-2zM338 409h2v2h-2zM332 411h2v2h-2zM334 411h2v2h-2zM336 413h2v2h-2zM338 415h2v2h-2zM340 415h2v2h-2zM334 417h2v2h-2zM344 417h2v2h-2zM346 417h2v2h-2zM332 419h2v2h-2zM334 419h2v2h-2zM330 421h2v2h-2zM336 421h2v2h-2zM338 421h2v2h-2zM330 423h2v2h-2zM336 423h2v2h-2zM344 423h2v2h-2zM320 425h2v2h-2zM336 425h2v2h-2zM328 427h2v2h-2zM346 427h2v2h-2zM332 429h2v2h-2zM340 429h2v2h-2zM328 431h2v2h-2zM332 431h2v2h-2zM336 431h2v2h-2zM338 431h2v2h-2zM352 431h2v2h-2zM322 433h2v2h-2zM326 433h2v2h-2zM332 433h2v2h-2zM334 433h2v2h-2zM340 433h2v2h-2zM344 433h2v2h-2zM316 435h2v2h-2zM326 435h2v2h-2zM348 435h2v2h-2zM322 437h2v2h-2zM328 437h2v2h-2zM334 437h2v2h-2zM338 437h2v2h-2zM340 437h2v2h-2zM312 439h2v2h-2zM330 439h2v2h-2zM332 439h2v2h-2zM340 439h2v2h-2zM320 441h2v2h-2zM322 441h2v2h-2zM324 441h2v2h-2zM332 441h2v2h-2zM316 443h2v2h-2zM322 443h2v2h-2zM338 443h2v2h-2zM316 445h2v2h-2zM320 445h2v2h-2zM322 445h2v2h-2zM330 445h2v2h-2zM340 445h2v2h-2zM346 445h2v2h-2zM348 445h2v2h-2zM314 447h2v2h-2zM316 447h2v2h-2zM318 447h2v2h-2zM336 447h2v2h-2zM342 447h2v2h-2zM318 449h2v2h-2zM324 449h2v2h-2zM334 449h2v2h-2zM336 449h2v2h-2zM322 451h2v2h-2zM340 451h2v2h-2zM326 453h2v2h-2zM332 453h2v2h-2zM336 453h2v2h-2zM346 453h2v2h-2zM348 453h2v2h-2zM324 455h2v2h-2zM332 455h2v2h-2zM336 455h2v2h-2zM342 455h2v2h-2zM314 457h2v2h-2zM316 457h2v2h-2zM322 457h2v2h-2zM332 457h2v2h-2zM330 459h2v2h-2zM334 459h2v2h-2zM316 461h2v2h-2zM328 461h2v2h-2zM336 461h2v2h-2zM342 461h2v2h-2zM314 463h2v2h-2zM300 465h2v2h-2zM312 465h2v2h-2zM314 465h2v2h-2zM326 465h2v2h-2zM328 465h2v2h-2zM296 467h2v2h-2zM302 467h2v2h-2zM326 467h2v2h-2zM344 467h2v2h-2zM326 469h2v2h-2zM340 469h2v2h-2zM342 469h2v2h-2zM308 471h2v2h-2zM310 471h2v2h-2zM320 471h2v2h-2zM322 471h2v2h-2zM326 471h2v2h-2zM330 471h2v2h-2zM328 473h2v2h-2zM330 473h2v2h-2zM304 475h2v2h-2zM314 475h2v2h-2zM324 475h2v2h-2zM326 475h2v2h-2zM332 475h2v2h-2zM340 475h2v2h-2zM306 477h2v2h-2zM310 477h2v2h-2zM324 477h2v2h-2zM326 477h2v2h-2zM336 477h2v2h-2zM298 479h2v2h-2zM300 479h2v2h-2zM310 479h2v2h-2zM326 479h2v2h-2zM330 479h2v2h-2zM340 479h2v2h-2zM302 481h2v2h-2zM304 481h2v2h-2zM322 481h2v2h-2zM332 481h2v2h-2zM290 483h2v2h-2zM296 483h2v2h-2zM328 483h2v2h-2zM338 483h2v2h-2zM286 485h2v2h-2zM296 485h2v2h-2zM298 485h2v2h-2zM324 485h2v2h-2zM320 487h2v2h-2zM328 487h2v2h-2zM336 487h2v2h-2zM282 489h2v2h-2zM286 489h2v2h-2zM292 489h2v2h-2zM326 489h2v2h-2zM328 489h2v2h-2zM280 491h2v2h-2zM282 491h2v2h-2zM286 491h2v2h-2zM336 491h2v2h-2zM282 493h2v2h-2zM288 493h2v2h-2zM292 493h2v2h-2zM280 495h2v2h-2zM322 495h2v2h-2zM330 495h2v2h-2zM332 495h2v2h-2zM276 497h2v2h-2zM282 497h2v2h-2zM284 497h2v2h-2zM272 499h2v2h-2zM326 501h2v2h-2zM266 503h2v2h-2zM268 503h2v2h-2zM326 505h2v2h-2zM266 507h2v2h-2zM324 507h2v2h-2zM262 509h2v2h-2zM326 509h2v2h-2zM256 511h2v2h-2zM260 511h2v2h-2zM268 511h2v2h-2zM316 511h2v2h-2zM256 513h2v2h-2zM256 517h2v2h-2zM244 519h2v2h-2zM252 519h2v2h-2zM308 519h2v2h-2zM312 519h2v2h-2zM246 521h2v2h-2zM248 521h2v2h-2zM306 521h2v2h-2zM312 521h2v2h-2zM298 523h2v2h-2zM302 523h2v2h-2zM230 525h2v2h-2zM240 525h2v2h-2zM244 525h2v2h-2zM298 525h2v2h-2zM314 525h2v2h-2zM230 527h2v2h-2zM234 527h2v2h-2zM252 527h2v2h-2zM268 529h2v2h-2zM272 529h2v2h-2zM286 529h2v2h-2zM254 531h2v2h-2zM260 531h2v2h-2zM266 531h2v2h-2zM268 531h2v2h-2zM272 531h2v2h-2zM274 531h2v2h-2zM282 531h2v2h-2zM284 531h2v2h-2zM286 531h2v2h-2zM226 533h2v2h-2zM244 533h2v2h-2zM246 533h2v2h-2zM282 533h2v2h-2z"/>
<path fill="#00e0ff" d="M346 97h2v2h-2zM344 99h2v2h-2zM342 101h2v2h-2zM346 111h2v2h-2zM342 113h2v2h-2zM350 113h2v2h-2zM340 115h2v2h-2zM346 115h2v2h-2zM336 119h2v2h-2zM336 121h2v2h-2zM340 123h2v2h-2zM342 123h2v2h-2zM344 123h2v2h-2zM346 123h2v2h-2zM350 123h2v2h-2zM328 125h2v2h-2zM336 125h2v2h-2zM338 125h2v2h-2zM338 127h2v2h-2zM336 129h2v2h-2zM338 129h2v2h-2zM346 129h2v2h-2zM338 131h2v2h-2zM340 131h2v2h-2zM346 131h2v2h-2zM336 133h2v2h-2zM346 133h2v2h-2zM334 135h2v2h-2zM336 135h2v2h-2zM346 135h2v2h-2zM340 137h2v2h-2zM346 137h2v2h-2zM348 137h2v2h-2zM350 137h2v2h-2zM338 139h2v2h-2zM340 139h2v2h-2zM348 139h2v2h-2zM352 139h2v2h-2zM346 141h2v2h-2zM330 145h2v2h-2zM334 147h2v2h-2zM342 147h2v2h-2zM350 147h2v2h-2zM326 149h2v2h-2zM334 149h2v2h-2zM338 149h2v2h-2zM346 149h2v2h-2zM330 151h2v2h-2zM334 151h2v2h-2zM340 151h2v2h-2zM344 151h2v2h-2zM330 153h2v2h-2zM342 155h2v2h-2zM350 155h2v2h-2zM326 157h2v2h-2zM330 157h2v2h-2zM336 157h2v2h-2zM350 157h2v2h-2zM356 157h2v2h-2zM334 159h2v2h-2zM338 159h2v2h-2zM332 161h2v2h-2zM334 161h2v2h-2zM348 161h2v2h-2zM344 163h2v2h-2zM348 163h2v2h-2zM350 163h2v2h-2zM334 165h2v2h-2zM342 165h2v2h-2zM346 165h2v2h-2zM334 167h2v2h-2zM358 167h2v2h-2zM324 169h2v2h-2zM328 169h2v2h-2zM342 169h2v2h-2zM324 171h2v2h-2zM334 173h2v2h-2zM348 173h2v2h-2zM356 173h2v2h-2zM338 175h2v2h-2zM342 175h2v2h-2zM344 175h2v2h-2zM350 175h2v2h-2zM328 177h2v2h-2zM340 177h2v2h-2zM348 179h2v2h-2zM352 179h2v2h-2zM352 181h2v2h-2zM322 183h2v2h-2zM326 183h2v2h-2zM334 183h2v2h-2zM350 183h2v2h-2zM354 183h2v2h-2zM356 183h2v2h-2zM320 185h2v2h-2zM346 185h2v2h-2zM348 185h2v2h-2zM352 185h2v2h-2zM326 187h2v2h-2zM328 187h2v2h-2zM334 187h2v2h-2zM348 187h2v2h-2zM326 189h2v2h-2zM332 189h2v2h-2zM350 189h2v2h-2zM328 191h2v2h-2zM344 191h2v2h-2zM322 193h2v2h-2zM350 193h2v2h-2zM342 195h2v2h-2zM346 195h2v2h-2zM350 195h2v2h-2zM354 195h2v2h-2zM322 197h2v2h-2zM330 197h2v2h-2zM334 197h2v2h-2zM348 197h2v2h-2zM316 199h2v2h-2zM324 199h2v2h-2zM326 199h2v2h-2zM340 199h2v2h-2zM356 199h2v2h-2zM322 201h2v2h-2zM326 201h2v2h-2zM324 203h2v2h-2zM346 203h2v2h-2zM326 205h2v2h-2zM340 205h2v2h-2zM344 205h2v2h-2zM346 205h2v2h-2zM350 205h2v2h-2zM320 207h2v2h-2zM322 207h2v2h-2zM328 207h2v2h-2zM342 207h2v2h-2zM350 207h2v2h-2zM320 209h2v2h-2zM330 209h2v2h-2zM352 209h2v2h-2zM332 211h2v2h-2zM334 211h2v2h-2zM336 211h2v2h-2zM352 211h2v2h-2zM346 213h2v2h-2zM322 215h2v2h-2zM358 215h2v2h-2zM316 217h2v2h-2zM350 217h2v2h-2zM322 219h2v2h-2zM348 219h2v2h-2zM352 219h2v2h-2zM354 219h2v2h-2zM318 221h2v2h-2zM322 221h2v2h-2zM356 221h2v2h-2zM320 223h2v2h-2zM346 223h2v2h-2zM348 223h2v2h-2zM324 225h2v2h-2zM328 225h2v2h-2zM318 227h2v2h-2zM320 227h2v2h-2zM322 227h2v2h-2zM334 227h2v2h-2zM338 227h2v2h-2zM316 229h2v2h-2zM318 229h2v2h-2zM348 229h2v2h-2zM326 231h2v2h-2zM348 231h2v2h-2zM354 231h2v2h-2zM320 233h2v2h-2zM350 233h2v2h-2zM354 233h2v2h-2zM326 235h2v2h-2zM346 235h2v2h-2zM328 237h2v2h-2zM332 237h2v2h-2zM346 237h2v2h-2zM348 237h2v2h-2zM318 239h2v2h-2zM330 239h2v2h-2zM336 239h2v2h-2zM350 239h2v2h-2zM352 239h2v2h-2zM354 239h2v2h-2zM364 239h2v2h-2zM330 241h2v2h-2zM350 241h2v2h-2zM314 243h2v2h-2zM348 243h2v2h-2zM354 243h2v2h-2zM318 245h2v2h-2zM322 245h2v2h-2zM324 245h2v2h-2zM350 245h2v2h-2zM354 245h2v2h-2zM350 247h2v2h-2zM316 249h2v2h-2zM318 249h2v2h-2zM336 249h2v2h-2zM340 251h2v2h-2zM348 251h2v2h-2zM350 251h2v2h-2zM352 251h2v2h-2zM348 255h2v2h-2zM350 255h2v2h-2zM318 257h2v2h-2zM320 257h2v2h-2zM344 257h2v2h-2zM350 257h2v2h-2zM320 259h2v2h-2zM330 259h2v2h-2zM354 259h2v2h-2zM320 261h2v2h-2zM352 261h2v2h-2zM350 263h2v2h-2zM352 263h2v2h-2zM318 265h2v2h-2zM352 265h2v2h-2zM326 267h2v2h-2zM330 267h2v2h-2zM332 267h2v2h-2zM352 267h2v2h-2zM322 269h2v2h-2zM326 269h2v2h-2zM330 269h2v2h-2zM318 271h2v2h-2zM344 271h2v2h-2zM322 273h2v2h-2zM330 273h2v2h-2zM348 273h2v2h-2zM352 273h2v2h-2zM320 275h2v2h-2zM344 275h2v2h-2zM326 279h2v2h-2zM344 279h2v2h-2zM350 279h2v2h-2zM320 281h2v2h-2zM342 281h2v2h-2zM344 281h2v2h-2zM350 281h2v2h-2zM352 281h2v2h-2zM316 283h2v2h-2zM322 283h2v2h-2zM330 283h2v2h-2zM336 283h2v2h-2zM346 283h2v2h-2zM316 285h2v2h-2zM318 285h2v2h-2zM326 285h2v2h-2zM328 285h2v2h-2zM330 285h2v2h-2zM354 285h2v2h-2zM324 287h2v2h-2zM338 287h2v2h-2zM346 287h2v2h-2zM320 289h2v2h-2zM338 289h2v2h-2zM344 289h2v2h-2zM324 291h2v2h-2zM350 291h2v2h-2zM320 293h2v2h-2zM322 293h2v2h-2zM340 293h2v2h-2zM328 295h2v2h-2zM330 295h2v2h-2zM334 295h2v2h-2zM342 295h2v2h-2zM352 295h2v2h-2zM314 297h2v2h-2zM322 297h2v2h-2zM324 297h2v2h-2zM332 297h2v2h-2zM340 297h2v2h-2zM342 297h2v2h-2zM324 299h2v2h-2zM332 299h2v2h-2zM346 299h2v2h-2zM318 301h2v2h-2zM322 301h2v2h-2zM324 301h2v2h-2zM336 301h2v2h-2zM342 301h2v2h-2zM346 301h2v2h-2zM350 301h2v2h-2zM322 303h2v2h-2zM332 303h2v2h-2zM336 303h2v2h-2zM348 303h2v2h-2zM354 303h2v2h-2zM318 305h2v2h-2zM320 305h2v2h-2zM342 305h2v2h-2zM350 305h2v2h-2zM328 307h2v2h-2zM348 307h2v2h-2zM328 309h2v2h-2zM354 309h2v2h-2zM322 311h2v2h-2zM324 311h2v2h-2zM340 311h2v2h-2zM344 311h2v2h-2zM346 311h2v2h-2zM348 311h2v2h-2zM318 313h2v2h-2zM322 313h2v2h-2zM324 313h2v2h-2zM346 313h2v2h-2zM350 313h2v2h-2zM332 315h2v2h-2zM336 315h2v2h-2zM326 317h2v2h-2zM336 317h2v2h-2zM342 317h2v2h-2zM344 317h2v2h-2zM316 319h2v2h-2zM320 319h2v2h-2zM324 319h2v2h-2zM340 319h2v2h-2zM318 321h2v2h-2zM332 321h2v2h-2zM336 321h2v2h-2zM344 321h2v2h-2zM314 323h2v2h-2zM320 323h2v2h-2zM336 323h2v2h-2zM338 323h2v2h-2zM348 323h2v2h-2zM324 325h2v2h-2zM326 325h2v2h-2zM328 325h2v2h-2zM330 325h2v2h-2zM350 325h2v2h-2zM324 327h2v2h-2zM336 327h2v2h-2zM338 327h2v2h-2zM324 329h2v2h-2zM326 329h2v2h-2zM338 329h2v2h-2zM350 329h2v2h-2zM322 331h2v2h-2zM336 331h2v2h-2zM346 331h2v2h-2zM324 333h2v2h-2zM330 333h2v2h-2zM334 333h2v2h-2zM336 333h2v2h-2zM344 333h2v2h-2zM348 333h2v2h-2zM322 335h2v2h-2zM332 335h2v2h-2zM334 335h2v2h-2zM338 335h2v2h-2zM344 335h2v2h-2zM346 335h2v2h-2zM328 337h2v2h-2zM344 337h2v2h-2zM344 339h2v2h-2zM342 341h2v2h-2zM322 343h2v2h-2zM330 343h2v2h-2zM336 343h2v2h-2zM342 343h2v2h-2zM328 345h2v2h-2zM330 345h2v2h-2zM338 345h2v2h-2zM340 345h2v2h-2zM326 347h2v2h-2zM340 347h2v2h-2zM344 347h2v2h-2zM330 349h2v2h-2zM336 349h2v2h-2zM338 349h2v2h-2zM344 349h2v2h-2zM326 351h2v2h-2zM330 351h2v2h-2zM332 351h2v2h-2zM340 353h2v2h-2zM340 355h2v2h-2zM342 357h2v2h-2zM336 359h2v2h-2zM340 359h2v2h-2zM326 361h2v2h-2zM328 361h2v2h-2zM350 361h2v2h-2zM326 363h2v2h-2zM328 363h2v2h-2zM336 363h2v2h-2zM342 365h2v2h-2zM334 369h2v2h-2zM338 369h2v2h-2zM340 369h2v2h-2zM342 369h2v2h-2zM334 373h2v2h-2zM338 373h2v2h-2zM328 375h2v2h-2zM328 377h2v2h-2zM344 383h2v2h-2zM348 383h2v2h-2zM326 385h2v2h-2zM328 385h2v2h-2zM332 385h2v2h-2zM346 385h2v2h-2zM344 387h2v2h-2zM334 389h2v2h-2zM336 389h2v2h-2zM324 391h2v2h-2zM342 391h2v2h-2zM332 395h2v2h-2zM348 395h2v2h-2zM324 399h2v2h-2zM326 399h2v2h-2zM340 399h2v2h-2zM330 401h2v2h-2zM332 401h2v2h-2zM336 401h2v2h-2zM328 403h2v2h-2zM334 403h2v2h-2zM328 405h2v2h-2zM340 405h2v2h-2zM326 407h2v2h-2zM336 407h2v2h-2zM324 409h2v2h-2zM326 409h2v2h-2zM346 409h2v2h-2zM348 409h2v2h-2zM338 411h2v2h-2zM342 411h2v2h-2zM326 413h2v2h-2zM342 415h2v2h-2zM344 415h2v2h-2zM328 417h2v2h-2zM330 417h2v2h-2zM332 417h2v2h-2zM338 417h2v2h-2zM338 419h2v2h-2zM342 421h2v2h-2zM328 423h2v2h-2zM338 425h2v2h-2zM346 425h2v2h-2zM340 431h2v2h-2zM324 433h2v2h-2zM328 433h2v2h-2zM324 435h2v2h-2zM336 435h2v2h-2zM326 437h2v2h-2zM330 437h2v2h-2zM344 437h2v2h-2zM322 439h2v2h-2zM338 439h2v2h-2zM314 441h2v2h-2zM326 441h2v2h-2zM336 441h2v2h-2zM318 443h2v2h-2zM340 443h2v2h-2zM346 443h2v2h-2zM312 445h2v2h-2zM324 445h2v2h-2zM328 445h2v2h-2zM336 445h2v2h-2zM338 445h2v2h-2zM326 447h2v2h-2zM332 447h2v2h-2zM320 449h2v2h-2zM326 449h2v2h-2zM330 449h2v2h-2zM332 449h2v2h-2zM346 449h2v2h-2zM314 451h2v2h-2zM326 451h2v2h-2zM328 451h2v2h-2zM330 451h2v2h-2zM332 451h2v2h-2zM336 451h2v2h-2zM328 453h2v2h-2zM330 453h2v2h-2zM334 453h2v2h-2zM338 453h2v2h-2zM328 455h2v2h-2zM338 455h2v2h-2zM308 457h2v2h-2zM328 457h2v2h-2zM320 459h2v2h-2zM322 459h2v2h-2zM324 459h2v2h-2zM340 459h2v2h-2zM322 461h2v2h-2zM324 461h2v2h-2zM338 463h2v2h-2zM320 465h2v2h-2zM322 465h2v2h-2zM308 467h2v2h-2zM320 467h2v2h-2zM322 467h2v2h-2zM332 467h2v2h-2zM334 467h2v2h-2zM308 469h2v2h-2zM314 469h2v2h-2zM334 469h2v2h-2zM306 471h2v2h-2zM314 471h2v2h-2zM318 471h2v2h-2zM324 471h2v2h-2zM306 473h2v2h-2zM310 473h2v2h-2zM314 473h2v2h-2zM316 473h2v2h-2zM324 473h2v2h-2zM326 473h2v2h-2zM338 473h2v2h-2zM306 475h2v2h-2zM308 475h2v2h-2zM312 475h2v2h-2zM320 475h2v2h-2zM328 475h2v2h-2zM292 477h2v2h-2zM308 477h2v2h-2zM314 477h2v2h-2zM318 477h2v2h-2zM322 477h2v2h-2zM328 477h2v2h-2zM330 477h2v2h-2zM290 479h2v2h-2zM292 479h2v2h-2zM294 479h2v2h-2zM302 479h2v2h-2zM308 479h2v2h-2zM320 479h2v2h-2zM322 479h2v2h-2zM328 479h2v2h-2zM334 479h2v2h-2zM298 481h2v2h-2zM308 481h2v2h-2zM326 481h2v2h-2zM336 481h2v2h-2zM284 483h2v2h-2zM286 483h2v2h-2zM300 483h2v2h-2zM302 483h2v2h-2zM308 483h2v2h-2zM330 483h2v2h-2zM288 485h2v2h-2zM304 485h2v2h-2zM306 485h2v2h-2zM310 485h2v2h-2zM318 485h2v2h-2zM334 485h2v2h-2zM290 487h2v2h-2zM332 487h2v2h-2zM334 487h2v2h-2zM284 489h2v2h-2zM288 489h2v2h-2zM290 489h2v2h-2zM330 489h2v2h-2zM332 489h2v2h-2zM334 489h2v2h-2zM324 491h2v2h-2zM332 491h2v2h-2zM334 491h2v2h-2zM280 493h2v2h-2zM332 493h2v2h-2zM278 495h2v2h-2zM320 495h2v2h-2zM278 497h2v2h-2zM330 497h2v2h-2zM332 497h2v2h-2zM274 499h2v2h-2zM276 499h2v2h-2zM280 499h2v2h-2zM274 501h2v2h-2zM278 501h2v2h-2zM270 503h2v2h-2zM272 503h2v2h-2zM322 503h2v2h-2zM324 503h2v2h-2zM326 503h2v2h-2zM270 505h2v2h-2zM320 505h2v2h-2zM322 505h2v2h-2zM330 505h2v2h-2zM326 507h2v2h-2zM328 507h2v2h-2zM266 509h2v2h-2zM262 511h2v2h-2zM314 513h2v2h-2zM252 515h2v2h-2zM262 515h2v2h-2zM316 515h2v2h-2zM312 517h2v2h-2zM250 519h2v2h-2zM252 521h2v2h-2zM298 521h2v2h-2zM240 523h2v2h-2zM244 523h2v2h-2zM250 523h2v2h-2zM294 523h2v2h-2zM300 523h2v2h-2zM304 523h2v2h-2zM246 525h2v2h-2zM258 525h2v2h-2zM290 525h2v2h-2zM240 527h2v2h-2zM260 527h2v2h-2zM284 527h2v2h-2zM290 527h2v2h-2zM238 529h2v2h-2zM252 529h2v2h-2zM254 529h2v2h-2zM258 529h2v2h-2zM270 529h2v2h-2zM278 529h2v2h-2zM280 529h2v2h-2zM258 531h2v2h-2zM268 533h2v2h-2zM260 535h2v2h-2zM262 535h2v2h-2z"/>
<path fill="#00ffa0" d="M346 107h2v2h-2zM344 109h2v2h-2zM344 111h2v2h-2zM338 115h2v2h-2zM340 119h2v2h-2zM334 129h2v2h-2zM340 129h2v2h-2zM342 129h2v2h-2zM344 129h2v2h-2zM342 131h2v2h-2zM350 133h2v2h-2zM344 135h2v2h-2zM334 137h2v2h-2zM338 137h2v2h-2zM342 137h2v2h-2zM344 141h2v2h-2zM334 143h2v2h-2zM332 145h2v2h-2zM338 145h2v2h-2zM344 145h2v2h-2zM346 145h2v2h-2zM350 145h2v2h-2zM348 147h2v2h-2zM342 149h2v2h-2zM342 151h2v2h-2zM348 151h2v2h-2zM350 153h2v2h-2zM338 155h2v2h-2zM340 155h2v2h-2zM346 159h2v2h-2zM340 161h2v2h-2zM342 161h2v2h-2zM346 161h2v2h-2zM336 163h2v2h-2zM332 165h2v2h-2zM338 165h2v2h-2zM350 165h2v2h-2zM330 167h2v2h-2zM340 167h2v2h-2zM336 169h2v2h-2zM344 169h2v2h-2zM346 169h2v2h-2zM348 169h2v2h-2zM350 169h2v2h-2zM332 171h2v2h-2zM338 171h2v2h-2zM340 171h2v2h-2zM344 171h2v2h-2zM348 171h2v2h-2zM350 171h2v2h-2zM350 173h2v2h-2zM326 175h2v2h-2zM328 175h2v2h-2zM338 177h2v2h-2zM350 177h2v2h-2zM352 177h2v2h-2zM330 179h2v2h-2zM340 179h2v2h-2zM342 179h2v2h-2zM344 179h2v2h-2zM350 179h2v2h-2zM342 181h2v2h-2zM348 181h2v2h-2zM342 183h2v2h-2zM348 183h2v2h-2zM330 185h2v2h-2zM332 185h2v2h-2zM350 185h2v2h-2zM336 187h2v2h-2zM338 187h2v2h-2zM340 187h2v2h-2zM342 187h2v2h-2zM344 187h2v2h-2zM346 187h2v2h-2zM328 189h2v2h-2zM340 189h2v2h-2zM344 189h2v2h-2zM326 191h2v2h-2zM338 191h2v2h-2zM342 191h2v2h-2zM328 193h2v2h-2zM354 193h2v2h-2zM332 195h2v2h-2zM338 195h2v2h-2zM348 195h2v2h-2zM336 197h2v2h-2zM340 197h2v2h-2zM342 197h2v2h-2zM344 197h2v2h-2zM320 199h2v2h-2zM332 199h2v2h-2zM334 199h2v2h-2zM344 199h2v2h-2zM348 199h2v2h-2zM350 199h2v2h-2zM324 201h2v2h-2zM328 201h2v2h-2zM332 201h2v2h-2zM348 201h2v2h-2zM348 203h2v2h-2zM316 205h2v2h-2zM320 205h2v2h-2zM322 205h2v2h-2zM348 205h2v2h-2zM324 207h2v2h-2zM332 207h2v2h-2zM344 207h2v2h-2zM346 207h2v2h-2zM334 209h2v2h-2zM338 209h2v2h-2zM342 209h2v2h-2zM350 209h2v2h-2zM322 211h2v2h-2zM338 211h2v2h-2zM350 211h2v2h-2zM354 211h2v2h-2zM320 213h2v2h-2zM340 213h2v2h-2zM352 213h2v2h-2zM320 215h2v2h-2zM352 215h2v2h-2zM320 217h2v2h-2zM326 217h2v2h-2zM328 217h2v2h-2zM334 217h2v2h-2zM338 217h2v2h-2zM340 217h2v2h-2zM342 217h2v2h-2zM348 217h2v2h-2zM352 217h2v2h-2zM328 219h2v2h-2zM350 219h2v2h-2zM324 221h2v2h-2zM318 223h2v2h-2zM322 223h2v2h-2zM336 223h2v2h-2zM342 223h2v2h-2zM350 223h2v2h-2zM318 225h2v2h-2zM330 225h2v2h-2zM348 225h2v2h-2zM330 227h2v2h-2zM336 227h2v2h-2zM344 227h2v2h-2zM320 229h2v2h-2zM322 229h2v2h-2zM328 229h2v2h-2zM320 231h2v2h-2zM324 231h2v2h-2zM332 235h2v2h-2zM344 235h2v2h-2zM322 237h2v2h-2zM342 237h2v2h-2zM350 237h2v2h-2zM342 239h2v2h-2zM344 239h2v2h-2zM346 239h2v2h-2zM318 241h2v2h-2zM320 241h2v2h-2zM324 241h2v2h-2zM336 241h2v2h-2zM338 241h2v2h-2zM324 243h2v2h-2zM328 243h2v2h-2zM336 243h2v2h-2zM326 245h2v2h-2zM338 245h2v2h-2zM344 245h2v2h-2zM318 247h2v2h-2zM320 247h2v2h-2zM328 247h2v2h-2zM342 247h2v2h-2zM320 249h2v2h-2zM322 249h2v2h-2zM332 249h2v2h-2zM344 249h2v2h-2zM348 249h2v2h-2zM332 251h2v2h-2zM344 251h2v2h-2zM346 251h2v2h-2zM318 253h2v2h-2zM324 255h2v2h-2zM346 255h2v2h-2zM348 257h2v2h-2zM324 259h2v2h-2zM344 259h2v2h-2zM346 259h2v2h-2zM350 259h2v2h-2zM316 261h2v2h-2zM318 261h2v2h-2zM322 261h2v2h-2zM324 261h2v2h-2zM326 261h2v2h-2zM322 263h2v2h-2zM324 263h2v2h-2zM346 263h2v2h-2zM320 265h2v2h-2zM324 267h2v2h-2zM334 267h2v2h-2zM344 269h2v2h-2zM346 269h2v2h-2zM348 269h2v2h-2zM320 271h2v2h-2zM324 271h2v2h-2zM330 271h2v2h-2zM356 271h2v2h-2zM316 273h2v2h-2zM336 273h2v2h-2zM340 273h2v2h-2zM346 273h2v2h-2zM350 273h2v2h-2zM324 275h2v2h-2zM326 275h2v2h-2zM346 275h2v2h-2zM348 275h2v2h-2zM326 277h2v2h-2zM336 279h2v2h-2zM338 279h2v2h-2zM340 279h2v2h-2zM342 279h2v2h-2zM346 279h2v2h-2zM322 281h2v2h-2zM324 281h2v2h-2zM326 281h2v2h-2zM328 281h2v2h-2zM338 281h2v2h-2zM340 281h2v2h-2zM346 281h2v2h-2zM348 281h2v2h-2zM358 281h2v2h-2zM326 283h2v2h-2zM344 283h2v2h-2zM324 285h2v2h-2zM332 285h2v2h-2zM318 287h2v2h-2zM320 287h2v2h-2zM326 287h2v2h-2zM344 287h2v2h-2zM348 287h2v2h-2zM350 287h2v2h-2zM322 289h2v2h-2zM328 289h2v2h-2zM348 289h2v2h-2zM354 289h2v2h-2zM326 291h2v2h-2zM332 291h2v2h-2zM334 291h2v2h-2zM338 291h2v2h-2zM342 291h2v2h-2zM348 291h2v2h-2zM314 293h2v2h-2zM318 293h2v2h-2zM324 293h2v2h-2zM328 293h2v2h-2zM336 293h2v2h-2zM342 293h2v2h-2zM346 293h2v2h-2zM348 293h2v2h-2zM336 295h2v2h-2zM340 295h2v2h-2zM344 295h2v2h-2zM348 295h2v2h-2zM320 297h2v2h-2zM330 297h2v2h-2zM336 297h2v2h-2zM318 299h2v2h-2zM322 299h2v2h-2zM328 299h2v2h-2zM348 299h2v2h-2zM330 301h2v2h-2zM332 301h2v2h-2zM324 303h2v2h-2zM340 303h2v2h-2zM332 305h2v2h-2zM336 305h2v2h-2zM326 307h2v2h-2zM336 307h2v2h-2zM344 307h2v2h-2zM318 309h2v2h-2zM320 309h2v2h-2zM332 309h2v2h-2zM336 309h2v2h-2zM328 311h2v2h-2zM338 311h2v2h-2zM326 313h2v2h-2zM340 313h2v2h-2zM342 313h2v2h-2zM326 315h2v2h-2zM330 315h2v2h-2zM334 315h2v2h-2zM316 317h2v2h-2zM322 317h2v2h-2zM328 317h2v2h-2zM328 319h2v2h-2zM330 323h2v2h-2zM334 325h2v2h-2zM346 325h2v2h-2zM328 327h2v2h-2zM344 327h2v2h-2zM346 327h2v2h-2zM332 329h2v2h-2zM326 331h2v2h-2zM330 331h2v2h-2zM338 331h2v2h-2zM342 331h2v2h-2zM346 333h2v2h-2zM326 335h2v2h-2zM334 337h2v2h-2zM336 339h2v2h-2zM342 339h2v2h-2zM320 341h2v2h-2zM330 341h2v2h-2zM344 341h2v2h-2zM328 343h2v2h-2zM332 345h2v2h-2zM328 347h2v2h-2zM332 347h2v2h-2zM346 347h2v2h-2zM332 349h2v2h-2zM334 351h2v2h-2zM342 353h2v2h-2zM346 353h2v2h-2zM330 357h2v2h-2zM334 357h2v2h-2zM340 357h2v2h-2zM332 361h2v2h-2zM334 365h2v2h-2zM346 367h2v2h-2zM330 373h2v2h-2zM336 373h2v2h-2zM346 373h2v2h-2zM338 375h2v2h-2zM342 377h2v2h-2zM332 381h2v2h-2zM334 381h2v2h-2zM328 387h2v2h-2zM328 389h2v2h-2zM330 391h2v2h-2zM330 393h2v2h-2zM342 393h2v2h-2zM338 395h2v2h-2zM326 397h2v2h-2zM342 397h2v2h-2zM332 399h2v2h-2zM344 399h2v2h-2zM334 405h2v2h-2zM346 411h2v2h-2zM330 419h2v2h-2zM338 423h2v2h-2zM336 427h2v2h-2zM340 427h2v2h-2zM342 427h2v2h-2zM334 429h2v2h-2zM358 429h2v2h-2zM338 433h2v2h-2zM334 435h2v2h-2zM328 439h2v2h-2zM336 439h2v2h-2zM316 441h2v2h-2zM332 445h2v2h-2zM334 445h2v2h-2zM334 447h2v2h-2zM340 447h2v2h-2zM322 449h2v2h-2zM324 451h2v2h-2zM320 455h2v2h-2zM330 455h2v2h-2zM334 455h2v2h-2zM330 457h2v2h-2zM336 457h2v2h-2zM342 457h2v2h-2zM318 459h2v2h-2zM322 463h2v2h-2zM326 463h2v2h-2zM334 463h2v2h-2zM310 465h2v2h-2zM338 467h2v2h-2zM324 469h2v2h-2zM312 473h2v2h-2zM316 475h2v2h-2zM330 475h2v2h-2zM312 477h2v2h-2zM320 477h2v2h-2zM332 477h2v2h-2zM314 479h2v2h-2zM306 481h2v2h-2zM316 481h2v2h-2zM320 481h2v2h-2zM328 481h2v2h-2zM334 481h2v2h-2zM304 483h2v2h-2zM324 483h2v2h-2zM334 483h2v2h-2zM308 485h2v2h-2zM314 485h2v2h-2zM332 485h2v2h-2zM326 487h2v2h-2zM294 489h2v2h-2zM296 489h2v2h-2zM300 489h2v2h-2zM304 489h2v2h-2zM308 489h2v2h-2zM322 489h2v2h-2zM288 491h2v2h-2zM298 491h2v2h-2zM318 491h2v2h-2zM286 493h2v2h-2zM296 493h2v2h-2zM314 493h2v2h-2zM324 493h2v2h-2zM326 493h2v2h-2zM328 493h2v2h-2zM284 495h2v2h-2zM310 495h2v2h-2zM324 495h2v2h-2zM270 497h2v2h-2zM286 497h2v2h-2zM320 497h2v2h-2zM322 499h2v2h-2zM330 499h2v2h-2zM276 501h2v2h-2zM320 501h2v2h-2zM328 501h2v2h-2zM274 503h2v2h-2zM260 507h2v2h-2zM320 507h2v2h-2zM322 507h2v2h-2zM260 509h2v2h-2zM270 509h2v2h-2zM272 509h2v2h-2zM318 509h2v2h-2zM314 511h2v2h-2zM318 511h2v2h-2zM260 513h2v2h-2zM262 513h2v2h-2zM270 513h2v2h-2zM318 513h2v2h-2zM256 515h2v2h-2zM258 515h2v2h-2zM260 515h2v2h-2zM312 515h2v2h-2zM258 517h2v2h-2zM310 517h2v2h-2zM256 519h2v2h-2zM302 519h2v2h-2zM304 519h2v2h-2zM256 521h2v2h-2zM258 521h2v2h-2zM248 523h2v2h-2zM296 523h2v2h-2zM254 525h2v2h-2zM280 525h2v2h-2zM286 525h2v2h-2zM288 525h2v2h-2zM296 525h2v2h-2zM236 527h2v2h-2zM244 527h2v2h-2zM250 527h2v2h-2zM256 527h2v2h-2zM272 527h2v2h-2zM280 527h2v2h-2zM286 527h2v2h-2zM256 529h2v2h-2zM262 529h2v2h-2zM266 529h2v2h-2zM274 529h2v2h-2zM288 529h2v2h-2zM264 531h2v2h-2z"/>
<path fill="#00ff40" d="M340 121h2v2h-2zM346 121h2v2h-2zM344 125h2v2h-2zM340 127h2v2h-2zM348 129h2v2h-2zM344 133h2v2h-2zM342 135h2v2h-2zM344 137h2v2h-2zM344 139h2v2h-2zM340 143h2v2h-2zM334 145h2v2h-2zM340 145h2v2h-2zM332 147h2v2h-2zM336 147h2v2h-2zM346 147h2v2h-2zM336 149h2v2h-2zM344 149h2v2h-2zM334 155h2v2h-2zM346 155h2v2h-2zM338 157h2v2h-2zM336 159h2v2h-2zM340 159h2v2h-2zM330 161h2v2h-2zM344 161h2v2h-2zM334 163h2v2h-2zM342 163h2v2h-2zM336 165h2v2h-2zM344 165h2v2h-2zM332 167h2v2h-2zM336 167h2v2h-2zM338 167h2v2h-2zM344 167h2v2h-2zM332 169h2v2h-2zM338 169h2v2h-2zM334 171h2v2h-2zM346 171h2v2h-2zM328 173h2v2h-2zM338 173h2v2h-2zM334 175h2v2h-2zM340 175h2v2h-2zM346 175h2v2h-2zM330 177h2v2h-2zM332 177h2v2h-2zM334 177h2v2h-2zM342 177h2v2h-2zM344 177h2v2h-2zM346 177h2v2h-2zM354 177h2v2h-2zM354 179h2v2h-2zM332 181h2v2h-2zM328 183h2v2h-2zM338 183h2v2h-2zM340 183h2v2h-2zM344 183h2v2h-2zM346 183h2v2h-2zM342 185h2v2h-2zM324 187h2v2h-2zM332 187h2v2h-2zM338 189h2v2h-2zM332 191h2v2h-2zM334 191h2v2h-2zM346 191h2v2h-2zM356 191h2v2h-2zM330 193h2v2h-2zM332 193h2v2h-2zM334 193h2v2h-2zM338 193h2v2h-2zM340 193h2v2h-2zM342 193h2v2h-2zM346 193h2v2h-2zM348 193h2v2h-2zM328 195h2v2h-2zM334 195h2v2h-2zM340 195h2v2h-2zM344 195h2v2h-2zM324 197h2v2h-2zM326 197h2v2h-2zM338 197h2v2h-2zM350 197h2v2h-2zM322 199h2v2h-2zM330 199h2v2h-2zM336 199h2v2h-2zM338 199h2v2h-2zM342 199h2v2h-2zM346 199h2v2h-2zM330 201h2v2h-2zM336 201h2v2h-2zM340 201h2v2h-2zM344 201h2v2h-2zM330 203h2v2h-2zM332 203h2v2h-2zM340 203h2v2h-2zM328 205h2v2h-2zM330 205h2v2h-2zM336 205h2v2h-2zM338 205h2v2h-2zM342 205h2v2h-2zM326 207h2v2h-2zM338 207h2v2h-2zM322 209h2v2h-2zM328 209h2v2h-2zM336 209h2v2h-2zM340 209h2v2h-2zM344 209h2v2h-2zM328 211h2v2h-2zM340 211h2v2h-2zM342 211h2v2h-2zM346 211h2v2h-2zM322 213h2v2h-2zM326 213h2v2h-2zM330 213h2v2h-2zM332 213h2v2h-2zM350 213h2v2h-2zM326 215h2v2h-2zM330 215h2v2h-2zM332 215h2v2h-2zM340 215h2v2h-2zM350 215h2v2h-2zM322 217h2v2h-2zM324 217h2v2h-2zM330 217h2v2h-2zM344 219h2v2h-2zM328 221h2v2h-2zM332 221h2v2h-2zM334 221h2v2h-2zM338 221h2v2h-2zM340 221h2v2h-2zM342 221h2v2h-2zM344 221h2v2h-2zM346 221h2v2h-2zM348 221h2v2h-2zM340 223h2v2h-2zM316 225h2v2h-2zM322 225h2v2h-2zM332 225h2v2h-2zM334 225h2v2h-2zM340 225h2v2h-2zM342 225h2v2h-2zM350 225h2v2h-2zM324 227h2v2h-2zM326 227h2v2h-2zM346 227h2v2h-2zM348 227h2v2h-2zM354 227h2v2h-2zM324 229h2v2h-2zM326 229h2v2h-2zM342 229h2v2h-2zM344 229h2v2h-2zM318 231h2v2h-2zM322 231h2v2h-2zM334 231h2v2h-2zM336 231h2v2h-2zM346 231h2v2h-2zM350 231h2v2h-2zM324 233h2v2h-2zM326 233h2v2h-2zM330 233h2v2h-2zM334 233h2v2h-2zM336 233h2v2h-2zM344 233h2v2h-2zM320 235h2v2h-2zM328 235h2v2h-2zM344 237h2v2h-2zM352 237h2v2h-2zM314 239h2v2h-2zM316 239h2v2h-2zM320 239h2v2h-2zM324 239h2v2h-2zM332 239h2v2h-2zM328 241h2v2h-2zM332 241h2v2h-2zM334 241h2v2h-2zM326 243h2v2h-2zM330 243h2v2h-2zM338 243h2v2h-2zM344 243h2v2h-2zM346 243h2v2h-2zM352 243h2v2h-2zM328 245h2v2h-2zM330 245h2v2h-2zM332 245h2v2h-2zM334 245h2v2h-2zM352 245h2v2h-2zM322 247h2v2h-2zM346 247h2v2h-2zM324 249h2v2h-2zM326 249h2v2h-2zM320 251h2v2h-2zM322 251h2v2h-2zM330 251h2v2h-2zM334 251h2v2h-2zM326 253h2v2h-2zM328 253h2v2h-2zM344 253h2v2h-2zM348 253h2v2h-2zM318 255h2v2h-2zM326 255h2v2h-2zM338 255h2v2h-2zM328 257h2v2h-2zM330 257h2v2h-2zM334 257h2v2h-2zM338 257h2v2h-2zM346 257h2v2h-2zM322 259h2v2h-2zM326 259h2v2h-2zM340 259h2v2h-2zM352 259h2v2h-2zM330 261h2v2h-2zM338 261h2v2h-2zM348 261h2v2h-2zM350 261h2v2h-2zM320 263h2v2h-2zM330 263h2v2h-2zM336 263h2v2h-2zM344 263h2v2h-2zM326 265h2v2h-2zM334 265h2v2h-2zM316 267h2v2h-2zM318 267h2v2h-2zM328 267h2v2h-2zM336 267h2v2h-2zM340 267h2v2h-2zM324 269h2v2h-2zM342 269h2v2h-2zM326 271h2v2h-2zM332 271h2v2h-2zM334 271h2v2h-2zM340 271h2v2h-2zM326 273h2v2h-2zM328 273h2v2h-2zM334 273h2v2h-2zM342 273h2v2h-2zM328 275h2v2h-2zM336 275h2v2h-2zM340 275h2v2h-2zM322 277h2v2h-2zM324 277h2v2h-2zM328 277h2v2h-2zM340 277h2v2h-2zM342 277h2v2h-2zM328 279h2v2h-2zM330 281h2v2h-2zM336 281h2v2h-2zM332 283h2v2h-2zM342 283h2v2h-2zM336 285h2v2h-2zM338 285h2v2h-2zM340 285h2v2h-2zM344 285h2v2h-2zM330 287h2v2h-2zM334 289h2v2h-2zM322 291h2v2h-2zM330 291h2v2h-2zM340 291h2v2h-2zM326 293h2v2h-2zM344 293h2v2h-2zM318 295h2v2h-2zM322 295h2v2h-2zM334 297h2v2h-2zM344 297h2v2h-2zM326 299h2v2h-2zM340 299h2v2h-2zM342 299h2v2h-2zM344 299h2v2h-2zM328 301h2v2h-2zM320 303h2v2h-2zM328 303h2v2h-2zM346 303h2v2h-2zM314 305h2v2h-2zM322 305h2v2h-2zM330 305h2v2h-2zM338 305h2v2h-2zM346 305h2v2h-2zM330 307h2v2h-2zM332 307h2v2h-2zM334 307h2v2h-2zM338 309h2v2h-2zM346 309h2v2h-2zM326 311h2v2h-2zM332 311h2v2h-2zM334 313h2v2h-2zM324 315h2v2h-2zM338 315h2v2h-2zM324 317h2v2h-2zM338 317h2v2h-2zM332 319h2v2h-2zM334 319h2v2h-2zM338 319h2v2h-2zM324 321h2v2h-2zM328 321h2v2h-2zM332 323h2v2h-2zM334 323h2v2h-2zM346 323h2v2h-2zM342 329h2v2h-2zM332 333h2v2h-2zM340 333h2v2h-2zM342 333h2v2h-2zM330 335h2v2h-2zM330 339h2v2h-2zM336 341h2v2h-2zM334 347h2v2h-2zM326 349h2v2h-2zM340 351h2v2h-2zM334 353h2v2h-2zM336 357h2v2h-2zM342 363h2v2h-2zM346 375h2v2h-2zM328 381h2v2h-2zM338 383h2v2h-2zM334 387h2v2h-2zM332 391h2v2h-2zM334 391h2v2h-2zM340 391h2v2h-2zM332 397h2v2h-2zM334 401h2v2h-2zM342 409h2v2h-2zM340 419h2v2h-2zM346 421h2v2h-2zM326 431h2v2h-2zM330 443h2v2h-2zM336 443h2v2h-2zM324 453h2v2h-2zM316 459h2v2h-2zM326 461h2v2h-2zM330 463h2v2h-2zM318 465h2v2h-2zM332 465h2v2h-2zM316 469h2v2h-2zM320 469h2v2h-2zM322 469h2v2h-2zM328 469h2v2h-2zM330 469h2v2h-2zM320 473h2v2h-2zM318 479h2v2h-2zM310 481h2v2h-2zM312 481h2v2h-2zM314 481h2v2h-2zM310 483h2v2h-2zM312 483h2v2h-2zM314 483h2v2h-2zM318 483h2v2h-2zM332 483h2v2h-2zM294 485h2v2h-2zM302 485h2v2h-2zM328 485h2v2h-2zM330 485h2v2h-2zM338 485h2v2h-2zM296 487h2v2h-2zM298 487h2v2h-2zM308 487h2v2h-2zM298 489h2v2h-2zM306 489h2v2h-2zM312 489h2v2h-2zM314 491h2v2h-2zM328 491h2v2h-2zM284 493h2v2h-2zM294 493h2v2h-2zM286 495h2v2h-2zM326 495h2v2h-2zM322 497h2v2h-2zM324 497h2v2h-2zM284 499h2v2h-2zM272 501h2v2h-2zM324 501h2v2h-2zM318 503h2v2h-2zM276 505h2v2h-2zM282 505h2v2h-2zM316 505h2v2h-2zM318 505h2v2h-2zM324 505h2v2h-2zM272 507h2v2h-2zM316 507h2v2h-2zM268 509h2v2h-2zM316 509h2v2h-2zM322 509h2v2h-2zM266 511h2v2h-2zM272 511h2v2h-2zM264 513h2v2h-2zM316 513h2v2h-2zM264 515h2v2h-2zM308 515h2v2h-2zM314 515h2v2h-2zM254 517h2v2h-2zM260 517h2v2h-2zM268 517h2v2h-2zM306 517h2v2h-2zM314 517h2v2h-2zM316 517h2v2h-2zM254 519h2v2h-2zM258 519h2v2h-2zM262 519h2v2h-2zM306 519h2v2h-2zM302 521h2v2h-2zM252 523h2v2h-2zM256 523h2v2h-2zM280 523h2v2h-2zM242 525h2v2h-2zM248 525h2v2h-2zM260 525h2v2h-2zM292 525h2v2h-2zM294 525h2v2h-2zM254 527h2v2h-2zM258 527h2v2h-2zM274 527h2v2h-2zM278 527h2v2h-2zM282 527h2v2h-2zM248 529h2v2h-2zM264 529h2v2h-2zM290 529h2v2h-2zM262 531h2v2h-2z"/>
<path fill="#60ff00" d="M344 113h2v2h-2zM344 143h2v2h-2zM346 143h2v2h-2zM336 145h2v2h-2zM342 145h2v2h-2zM338 147h2v2h-2zM340 149h2v2h-2zM338 151h2v2h-2zM346 153h2v2h-2zM344 155h2v2h-2zM340 157h2v2h-2zM346 157h2v2h-2zM340 169h2v2h-2zM336 175h2v2h-2zM328 179h2v2h-2zM346 179h2v2h-2zM336 181h2v2h-2zM330 183h2v2h-2zM326 185h2v2h-2zM348 189h2v2h-2zM336 191h2v2h-2zM340 191h2v2h-2zM330 195h2v2h-2zM336 195h2v2h-2zM328 197h2v2h-2zM332 197h2v2h-2zM346 197h2v2h-2zM328 199h2v2h-2zM334 201h2v2h-2zM338 201h2v2h-2zM346 201h2v2h-2zM322 203h2v2h-2zM326 203h2v2h-2zM328 203h2v2h-2zM336 203h2v2h-2zM344 203h2v2h-2zM332 205h2v2h-2zM340 207h2v2h-2zM348 207h2v2h-2zM326 209h2v2h-2zM332 209h2v2h-2zM344 211h2v2h-2zM334 213h2v2h-2zM336 213h2v2h-2zM338 213h2v2h-2zM342 213h2v2h-2zM344 213h2v2h-2zM324 215h2v2h-2zM344 215h2v2h-2zM346 215h2v2h-2zM336 217h2v2h-2zM330 219h2v2h-2zM332 219h2v2h-2zM336 219h2v2h-2zM326 221h2v2h-2zM330 223h2v2h-2zM332 223h2v2h-2zM334 223h2v2h-2zM338 223h2v2h-2zM344 225h2v2h-2zM328 227h2v2h-2zM332 227h2v2h-2zM342 227h2v2h-2zM338 229h2v2h-2zM328 231h2v2h-2zM338 231h2v2h-2zM340 231h2v2h-2zM328 233h2v2h-2zM340 233h2v2h-2zM346 233h2v2h-2zM348 233h2v2h-2zM330 235h2v2h-2zM334 235h2v2h-2zM348 235h2v2h-2zM324 237h2v2h-2zM326 237h2v2h-2zM322 239h2v2h-2zM326 239h2v2h-2zM328 239h2v2h-2zM340 239h2v2h-2zM344 241h2v2h-2zM348 241h2v2h-2zM340 243h2v2h-2zM336 245h2v2h-2zM340 245h2v2h-2zM348 245h2v2h-2zM324 247h2v2h-2zM330 247h2v2h-2zM332 247h2v2h-2zM334 247h2v2h-2zM336 247h2v2h-2zM344 247h2v2h-2zM330 249h2v2h-2zM338 249h2v2h-2zM342 249h2v2h-2zM346 249h2v2h-2zM338 251h2v2h-2zM320 253h2v2h-2zM330 253h2v2h-2zM334 253h2v2h-2zM340 253h2v2h-2zM322 255h2v2h-2zM330 255h2v2h-2zM334 255h2v2h-2zM336 255h2v2h-2zM342 255h2v2h-2zM328 259h2v2h-2zM334 259h2v2h-2zM336 259h2v2h-2zM348 259h2v2h-2zM332 261h2v2h-2zM334 261h2v2h-2zM336 261h2v2h-2zM342 261h2v2h-2zM332 263h2v2h-2zM338 263h2v2h-2zM340 263h2v2h-2zM322 265h2v2h-2zM324 265h2v2h-2zM336 265h2v2h-2zM338 265h2v2h-2zM344 265h2v2h-2zM320 267h2v2h-2zM344 267h2v2h-2zM346 267h2v2h-2zM328 269h2v2h-2zM332 269h2v2h-2zM338 269h2v2h-2zM340 269h2v2h-2zM322 271h2v2h-2zM336 271h2v2h-2zM342 271h2v2h-2zM352 271h2v2h-2zM338 273h2v2h-2zM344 273h2v2h-2zM322 275h2v2h-2zM330 275h2v2h-2zM334 275h2v2h-2zM338 275h2v2h-2zM330 277h2v2h-2zM338 277h2v2h-2zM332 279h2v2h-2zM334 279h2v2h-2zM348 279h2v2h-2zM334 281h2v2h-2zM340 283h2v2h-2zM334 285h2v2h-2zM342 285h2v2h-2zM328 287h2v2h-2zM332 287h2v2h-2zM334 287h2v2h-2zM342 287h2v2h-2zM318 289h2v2h-2zM330 289h2v2h-2zM332 289h2v2h-2zM336 289h2v2h-2zM342 289h2v2h-2zM328 291h2v2h-2zM336 291h2v2h-2zM330 293h2v2h-2zM332 293h2v2h-2zM334 293h2v2h-2zM338 293h2v2h-2zM338 297h2v2h-2zM336 299h2v2h-2zM326 301h2v2h-2zM340 301h2v2h-2zM344 303h2v2h-2zM326 305h2v2h-2zM334 305h2v2h-2zM340 307h2v2h-2zM322 309h2v2h-2zM324 309h2v2h-2zM326 309h2v2h-2zM342 309h2v2h-2zM336 311h2v2h-2zM342 311h2v2h-2zM328 313h2v2h-2zM332 313h2v2h-2zM336 313h2v2h-2zM320 317h2v2h-2zM336 319h2v2h-2zM332 331h2v2h-2zM332 337h2v2h-2zM334 339h2v2h-2zM340 341h2v2h-2zM332 343h2v2h-2zM332 367h2v2h-2zM334 367h2v2h-2zM340 403h2v2h-2zM328 459h2v2h-2zM316 471h2v2h-2zM310 475h2v2h-2zM304 479h2v2h-2zM324 479h2v2h-2zM318 481h2v2h-2zM324 481h2v2h-2zM316 483h2v2h-2zM320 483h2v2h-2zM326 483h2v2h-2zM300 485h2v2h-2zM302 487h2v2h-2zM306 487h2v2h-2zM312 487h2v2h-2zM314 487h2v2h-2zM318 487h2v2h-2zM322 487h2v2h-2zM314 489h2v2h-2zM316 489h2v2h-2zM318 489h2v2h-2zM290 491h2v2h-2zM292 491h2v2h-2zM294 491h2v2h-2zM296 491h2v2h-2zM312 491h2v2h-2zM322 491h2v2h-2zM290 493h2v2h-2zM302 493h2v2h-2zM310 493h2v2h-2zM318 493h2v2h-2zM334 493h2v2h-2zM288 495h2v2h-2zM302 495h2v2h-2zM316 495h2v2h-2zM300 497h2v2h-2zM308 497h2v2h-2zM312 497h2v2h-2zM278 499h2v2h-2zM282 499h2v2h-2zM308 499h2v2h-2zM316 499h2v2h-2zM316 501h2v2h-2zM276 503h2v2h-2zM320 503h2v2h-2zM274 505h2v2h-2zM278 505h2v2h-2zM270 507h2v2h-2zM278 507h2v2h-2zM282 507h2v2h-2zM314 507h2v2h-2zM318 507h2v2h-2zM312 509h2v2h-2zM320 509h2v2h-2zM266 513h2v2h-2zM272 513h2v2h-2zM268 515h2v2h-2zM270 515h2v2h-2zM306 515h2v2h-2zM310 515h2v2h-2zM264 517h2v2h-2zM266 517h2v2h-2zM308 517h2v2h-2zM260 519h2v2h-2zM300 519h2v2h-2zM310 519h2v2h-2zM266 521h2v2h-2zM300 521h2v2h-2zM254 523h2v2h-2zM258 523h2v2h-2zM260 523h2v2h-2zM262 523h2v2h-2zM268 523h2v2h-2zM292 523h2v2h-2zM250 525h2v2h-2zM252 525h2v2h-2zM262 525h2v2h-2zM264 525h2v2h-2zM276 525h2v2h-2zM282 525h2v2h-2zM248 527h2v2h-2zM262 527h2v2h-2zM264 527h2v2h-2zM266 527h2v2h-2zM276 527h2v2h-2zM284 529h2v2h-2z"/>
<path fill="#c0ff00" d="M336 141h2v2h-2zM332 159h2v2h-2zM338 161h2v2h-2zM342 167h2v2h-2zM332 173h2v2h-2zM336 179h2v2h-2zM340 181h2v2h-2zM336 185h2v2h-2zM340 185h2v2h-2zM330 189h2v2h-2zM334 189h2v2h-2zM336 193h2v2h-2zM320 203h2v2h-2zM334 203h2v2h-2zM338 203h2v2h-2zM334 205h2v2h-2zM330 207h2v2h-2zM326 211h2v2h-2zM330 211h2v2h-2zM348 213h2v2h-2zM336 215h2v2h-2zM338 215h2v2h-2zM342 215h2v2h-2zM332 217h2v2h-2zM346 217h2v2h-2zM324 219h2v2h-2zM326 225h2v2h-2zM336 225h2v2h-2zM338 225h2v2h-2zM330 229h2v2h-2zM332 229h2v2h-2zM334 229h2v2h-2zM340 229h2v2h-2zM342 231h2v2h-2zM338 233h2v2h-2zM336 235h2v2h-2zM338 235h2v2h-2zM340 235h2v2h-2zM342 235h2v2h-2zM336 237h2v2h-2zM340 237h2v2h-2zM338 239h2v2h-2zM340 241h2v2h-2zM342 245h2v2h-2zM326 247h2v2h-2zM340 247h2v2h-2zM348 247h2v2h-2zM334 249h2v2h-2zM340 249h2v2h-2zM328 251h2v2h-2zM342 251h2v2h-2zM322 253h2v2h-2zM336 253h2v2h-2zM342 253h2v2h-2zM346 253h2v2h-2zM328 255h2v2h-2zM332 255h2v2h-2zM340 255h2v2h-2zM344 255h2v2h-2zM328 261h2v2h-2zM340 261h2v2h-2zM326 263h2v2h-2zM328 263h2v2h-2zM342 265h2v2h-2zM338 267h2v2h-2zM342 267h2v2h-2zM334 269h2v2h-2zM336 269h2v2h-2zM328 271h2v2h-2zM338 271h2v2h-2zM324 273h2v2h-2zM332 275h2v2h-2zM342 275h2v2h-2zM334 277h2v2h-2zM336 277h2v2h-2zM348 277h2v2h-2zM324 279h2v2h-2zM332 281h2v2h-2zM334 283h2v2h-2zM338 283h2v2h-2zM326 289h2v2h-2zM338 299h2v2h-2zM334 303h2v2h-2zM330 309h2v2h-2zM334 311h2v2h-2zM338 313h2v2h-2zM306 483h2v2h-2zM312 485h2v2h-2zM316 485h2v2h-2zM320 485h2v2h-2zM322 485h2v2h-2zM294 487h2v2h-2zM304 487h2v2h-2zM316 487h2v2h-2zM302 489h2v2h-2zM310 489h2v2h-2zM320 489h2v2h-2zM300 491h2v2h-2zM308 491h2v2h-2zM316 491h2v2h-2zM320 491h2v2h-2zM326 491h2v2h-2zM298 493h2v2h-2zM308 493h2v2h-2zM322 493h2v2h-2zM294 495h2v2h-2zM296 495h2v2h-2zM318 495h2v2h-2zM288 497h2v2h-2zM290 497h2v2h-2zM292 497h2v2h-2zM304 497h2v2h-2zM306 497h2v2h-2zM314 497h2v2h-2zM316 497h2v2h-2zM318 497h2v2h-2zM286 499h2v2h-2zM320 499h2v2h-2zM324 499h2v2h-2zM284 501h2v2h-2zM278 503h2v2h-2zM284 503h2v2h-2zM316 503h2v2h-2zM274 507h2v2h-2zM276 507h2v2h-2zM280 507h2v2h-2zM270 511h2v2h-2zM312 511h2v2h-2zM266 515h2v2h-2zM262 517h2v2h-2zM270 517h2v2h-2zM274 517h2v2h-2zM302 517h2v2h-2zM264 519h2v2h-2zM288 519h2v2h-2zM298 519h2v2h-2zM254 521h2v2h-2zM260 521h2v2h-2zM262 521h2v2h-2zM276 521h2v2h-2zM284 521h2v2h-2zM264 523h2v2h-2zM270 523h2v2h-2zM272 523h2v2h-2zM274 523h2v2h-2zM282 523h2v2h-2zM288 523h2v2h-2zM256 525h2v2h-2zM266 525h2v2h-2zM268 525h2v2h-2zM272 525h2v2h-2zM268 527h2v2h-2z"/>
<path fill="#ffff00" d="M338 143h2v2h-2zM336 173h2v2h-2zM336 183h2v2h-2zM344 193h2v2h-2zM348 211h2v2h-2zM328 215h2v2h-2zM334 215h2v2h-2zM344 217h2v2h-2zM326 219h2v2h-2zM334 219h2v2h-2zM340 219h2v2h-2zM328 223h2v2h-2zM340 227h2v2h-2zM346 229h2v2h-2zM332 231h2v2h-2zM344 231h2v2h-2zM332 233h2v2h-2zM342 233h2v2h-2zM338 237h2v2h-2zM334 239h2v2h-2zM326 241h2v2h-2zM320 243h2v2h-2zM332 243h2v2h-2zM342 243h2v2h-2zM324 253h2v2h-2zM338 253h2v2h-2zM332 257h2v2h-2zM336 257h2v2h-2zM338 259h2v2h-2zM334 263h2v2h-2zM342 263h2v2h-2zM328 265h2v2h-2zM330 265h2v2h-2zM332 273h2v2h-2zM330 279h2v2h-2zM326 295h2v2h-2zM332 295h2v2h-2zM338 303h2v2h-2zM340 305h2v2h-2zM310 487h2v2h-2zM302 491h2v2h-2zM304 491h2v2h-2zM306 491h2v2h-2zM306 493h2v2h-2zM316 493h2v2h-2zM290 495h2v2h-2zM300 495h2v2h-2zM304 495h2v2h-2zM312 495h2v2h-2zM294 497h2v2h-2zM296 497h2v2h-2zM310 497h2v2h-2zM296 499h2v2h-2zM300 499h2v2h-2zM304 499h2v2h-2zM306 499h2v2h-2zM310 499h2v2h-2zM318 499h2v2h-2zM292 501h2v2h-2zM308 501h2v2h-2zM312 501h2v2h-2zM314 501h2v2h-2zM318 501h2v2h-2zM280 503h2v2h-2zM310 503h2v2h-2zM312 507h2v2h-2zM274 509h2v2h-2zM276 509h2v2h-2zM310 509h2v2h-2zM274 511h2v2h-2zM276 511h2v2h-2zM304 511h2v2h-2zM268 513h2v2h-2zM308 513h2v2h-2zM272 515h2v2h-2zM272 517h2v2h-2zM276 517h2v2h-2zM300 517h2v2h-2zM304 517h2v2h-2zM268 519h2v2h-2zM270 519h2v2h-2zM264 521h2v2h-2zM270 521h2v2h-2zM272 521h2v2h-2zM286 521h2v2h-2zM266 523h2v2h-2zM278 523h2v2h-2zM284 523h2v2h-2zM274 525h2v2h-2zM278 525h2v2h-2zM284 525h2v2h-2zM270 527h2v2h-2z"/>
<path fill="#ffb000" d="M342 203h2v2h-2zM330 221h2v2h-2zM336 221h2v2h-2zM326 223h2v2h-2zM340 257h2v2h-2zM310 491h2v2h-2zM300 493h2v2h-2zM304 493h2v2h-2zM320 493h2v2h-2zM292 495h2v2h-2zM298 495h2v2h-2zM314 495h2v2h-2zM302 497h2v2h-2zM288 499h2v2h-2zM290 499h2v2h-2zM292 499h2v2h-2zM298 499h2v2h-2zM312 499h2v2h-2zM314 499h2v2h-2zM286 501h2v2h-2zM288 501h2v2h-2zM298 501h2v2h-2zM306 501h2v2h-2zM282 503h2v2h-2zM294 503h2v2h-2zM312 503h2v2h-2zM280 505h2v2h-2zM286 505h2v2h-2zM304 505h2v2h-2zM308 505h2v2h-2zM310 505h2v2h-2zM314 505h2v2h-2zM294 507h2v2h-2zM310 507h2v2h-2zM288 509h2v2h-2zM314 509h2v2h-2zM278 511h2v2h-2zM282 511h2v2h-2zM308 511h2v2h-2zM310 511h2v2h-2zM276 513h2v2h-2zM306 513h2v2h-2zM310 513h2v2h-2zM274 515h2v2h-2zM278 515h2v2h-2zM300 515h2v2h-2zM304 515h2v2h-2zM282 517h2v2h-2zM266 519h2v2h-2zM272 519h2v2h-2zM274 519h2v2h-2zM276 519h2v2h-2zM284 519h2v2h-2zM292 519h2v2h-2zM274 521h2v2h-2zM278 521h2v2h-2zM280 521h2v2h-2zM288 521h2v2h-2zM290 521h2v2h-2zM296 521h2v2h-2zM286 523h2v2h-2zM290 523h2v2h-2z"/>
<path fill="#ff6000" d="M312 493h2v2h-2zM306 495h2v2h-2zM308 495h2v2h-2zM298 497h2v2h-2zM294 499h2v2h-2zM282 501h2v2h-2zM290 501h2v2h-2zM294 501h2v2h-2zM296 501h2v2h-2zM302 501h2v2h-2zM310 501h2v2h-2zM286 503h2v2h-2zM290 503h2v2h-2zM292 503h2v2h-2zM296 503h2v2h-2zM300 503h2v2h-2zM302 503h2v2h-2zM304 503h2v2h-2zM306 503h2v2h-2zM308 503h2v2h-2zM314 503h2v2h-2zM284 505h2v2h-2zM290 505h2v2h-2zM298 505h2v2h-2zM306 505h2v2h-2zM312 505h2v2h-2zM284 507h2v2h-2zM286 507h2v2h-2zM308 507h2v2h-2zM278 509h2v2h-2zM280 509h2v2h-2zM284 509h2v2h-2zM304 509h2v2h-2zM308 509h2v2h-2zM280 511h2v2h-2zM284 511h2v2h-2zM302 511h2v2h-2zM274 513h2v2h-2zM280 513h2v2h-2zM300 513h2v2h-2zM302 513h2v2h-2zM304 513h2v2h-2zM276 515h2v2h-2zM282 515h2v2h-2zM284 515h2v2h-2zM288 515h2v2h-2zM292 515h2v2h-2zM302 515h2v2h-2zM278 517h2v2h-2zM280 517h2v2h-2zM288 517h2v2h-2zM292 517h2v2h-2zM298 517h2v2h-2zM278 519h2v2h-2zM280 519h2v2h-2zM282 519h2v2h-2zM286 519h2v2h-2zM290 519h2v2h-2zM294 519h2v2h-2zM268 521h2v2h-2zM292 521h2v2h-2zM294 521h2v2h-2zM276 523h2v2h-2z"/>
<path fill="#ff2000" d="M302 499h2v2h-2zM300 501h2v2h-2zM304 501h2v2h-2zM288 503h2v2h-2zM288 505h2v2h-2zM294 505h2v2h-2zM302 505h2v2h-2zM288 507h2v2h-2zM292 507h2v2h-2zM296 507h2v2h-2zM298 507h2v2h-2zM302 507h2v2h-2zM306 507h2v2h-2zM282 509h2v2h-2zM286 509h2v2h-2zM290 509h2v2h-2zM292 509h2v2h-2zM294 509h2v2h-2zM306 509h2v2h-2zM286 511h2v2h-2zM292 511h2v2h-2zM306 511h2v2h-2zM278 513h2v2h-2zM286 513h2v2h-2zM288 513h2v2h-2zM292 513h2v2h-2zM294 513h2v2h-2zM298 513h2v2h-2zM280 515h2v2h-2zM290 515h2v2h-2zM294 515h2v2h-2zM284 517h2v2h-2zM286 517h2v2h-2zM290 517h2v2h-2zM294 517h2v2h-2zM296 517h2v2h-2zM296 519h2v2h-2zM282 521h2v2h-2z"/>
<path fill="#ff0000" d="M298 503h2v2h-2zM292 505h2v2h-2zM296 505h2v2h-2zM300 505h2v2h-2zM290 507h2v2h-2zM300 507h2v2h-2zM304 507h2v2h-2zM296 509h2v2h-2zM298 509h2v2h-2zM300 509h2v2h-2zM302 509h2v2h-2zM288 511h2v2h-2zM290 511h2v2h-2zM294 511h2v2h-2zM296 511h2v2h-2zM298 511h2v2h-2zM300 511h2v2h-2zM282 513h2v2h-2zM284 513h2v2h-2zM290 513h2v2h-2zM296 513h2v2h-2zM286 515h2v2h-2zM296 515h2v2h-2zM298 515h2v2h-2z"/>
<path fill="#0000ff" d="M330 40h2v1h-2zM364 40h2v1h-2zM366 40h2v1h-2zM374 40h2v1h-2zM376 40h2v1h-2zM378 40h2v1h-2zM380 40h2v1h-2zM382 40h2v1h-2zM384 40h2v1h-2zM386 40h2v1h-2zM388 40h2v1h-2zM390 40h2v1h-2zM392 40h2v1h-2zM394 40h2v1h-2zM396 40h2v1h-2zM400 40h2v1h-2zM402 40h2v1h-2zM404 40h2v1h-2zM408 40h2v1h-2zM410 40h2v1h-2zM412 40h2v1h-2zM414 40h2v1h-2zM416 40h2v1h-2zM434 40h2v1h-2zM472 40h2v1h-2zM478 40h2v1h-2z"/>
<path fill="#0090ff" d="M328 40h2v1h-2zM354 40h2v1h-2zM358 40h2v1h-2zM370 40h2v1h-2zM418 40h2v1h-2zM420 40h2v1h-2zM422 40h2v1h-2zM424 40h2v1h-2zM426 40h2v1h-2z"/>
<path fill="#00e0ff" d="M332 40h2v1h-2zM334 40h2v1h-2zM336 40h2v1h-2zM338 40h2v1h-2zM342 40h2v1h-2z"/>
<path fill="#00ff40" d="M340 40h2v1h-2zM344 40h2v1h-2zM348 40h2v1h-2zM350 40h2v1h-2zM352 40h2v1h-2zM360 40h2v1h-2zM362 40h2v1h-2z"/>
<g fill="#000">
<rect x="120" y="39" width="513" height="1"/>
<rect x="120" y="39" width="1" height="513"/>
<rect x="632" y="39" width="1" height="513"/>
<rect x="120" y="551" width="513" height="1"/>
<rect x="113" y="65" width="7" height="2"/>
<rect x="113" y="186" width="7" height="2"/>
<rect x="113" y="307" width="7" height="2"/>
<rect x="113" y="428" width="7" height="2"/>
<rect x="113" y="549" width="7" height="2"/>
<rect x="117" y="525" width="3" height="1"/>
<rect x="117" y="501" width="3" height="1"/>
<rect x="117" y="477" width="3" height="1"/>
<rect x="117" y="453" width="3" height="1"/>
<rect x="117" y="404" width="3" height="1"/>
<rect x="117" y="380" width="3" height="1"/>
<rect x="117" y="356" width="3" height="1"/>
<rect x="117" y="332" width="3" height="1"/>
<rect x="117" y="283" width="3" height="1"/>
<rect x="117" y="259" width="3" height="1"/>
<rect x="117" y="235" width="3" height="1"/>
<rect x="117" y="211" width="3" height="1"/>
<rect x="117" y="162" width="3" height="1"/>
<rect x="117" y="138" width="3" height="1"/>
<rect x="117" y="114" width="3" height="1"/>
<rect x="117" y="90" width="3" height="1"/>
<rect x="117" y="41" width="3" height="1"/>
<rect x="120" y="552" width="2" height="6"/>
<rect x="221" y="552" width="2" height="6"/>
<rect x="323" y="552" width="2" height="6"/>
<rect x="426" y="552" width="2" height="6"/>
<rect x="528" y="552" width="2" height="6"/>
<rect x="630" y="552" width="2" height="6"/>
<rect x="151" y="552" width="1" height="3"/>
<rect x="169" y="552" width="1" height="3"/>
<rect x="181" y="552" width="1" height="3"/>
<rect x="191" y="552" width="1" height="3"/>
<rect x="199" y="552" width="1" height="3"/>
<rect x="206" y="552" width="1" height="3"/>
<rect x="212" y="552" width="1" height="3"/>
<rect x="217" y="552" width="1" height="3"/>
<rect x="252" y="552" width="1" height="3"/>
<rect x="270" y="552" width="1" height="3"/>
<rect x="283" y="552" width="1" height="3"/>
<rect x="293" y="552" width="1" height="3"/>
<rect x="301" y="552" width="1" height="3"/>
<rect x="308" y="552" width="1" height="3"/>
<rect x="314" y="552" width="1" height="3"/>
<rect x="319" y="552" width="1" height="3"/>
<rect x="355" y="552" width="1" height="3"/>
<rect x="373" y="552" width="1" height="3"/>
<rect x="386" y="552" width="1" height="3"/>
<rect x="395" y="552" width="1" height="3"/>
<rect x="404" y="552" width="1" height="3"/>
<rect x="411" y="552" width="1" height="3"/>
<rect x="417" y="552" width="1" height="3"/>
<rect x="422" y="552" width="1" height="3"/>
<rect x="457" y="552" width="1" height="3"/>
<rect x="475" y="552" width="1" height="3"/>
<rect x="488" y="552" width="1" height="3"/>
<rect x="498" y="552" width="1" height="3"/>
<rect x="506" y="552" width="1" height="3"/>
<rect x="513" y="552" width="1" height="3"/>
<rect x="519" y="552" width="1" height="3"/>
<rect x="524" y="552" width="1" height="3"/>
<rect x="559" y="552" width="1" height="3"/>
<rect x="577" y="552" width="1" height="3"/>
<rect x="590" y="552" width="1" height="3"/>
<rect x="600" y="552" width="1" height="3"/>
<rect x="608" y="552" width="1" height="3"/>
<rect x="615" y="552" width="1" height="3"/>
<rect x="621" y="552" width="1" height="3"/>
<rect x="626" y="552" width="1" height="3"/>
</g>
</svg>
<div class="t yl" style="right:545px;top:61px">200K</div>
<div class="t yl" style="right:545px;top:182px">150K</div>
<div class="t yl" style="right:545px;top:303px">100K</div>
<div class="t yl" style="right:545px;top:424px">50K</div>
<div class="t xl xs" style="left:100px;top:538px">0</div>
<div class="t xl xs" style="left:124.7px;top:568px">10<span class="sup">1</span></div>
<div class="t xl xs" style="left:217.8px;top:568px">10<span class="sup">2</span></div>
<div class="t xl xs" style="left:319.7px;top:568px">10<span class="sup">3</span></div>
<div class="t xl xs" style="left:422.7px;top:568px">10<span class="sup">4</span></div>
<div class="t xl xs" style="left:524.7px;top:568px">10<span class="sup">5</span></div>
<div class="t xl xs" style="left:604.7px;top:568px">10<span class="sup">6</span></div>
<div class="t ti">Mouse IgG2b Isotype Control FITC</div>
<div class="t yt">Side Scatter</div>
</body></html>
